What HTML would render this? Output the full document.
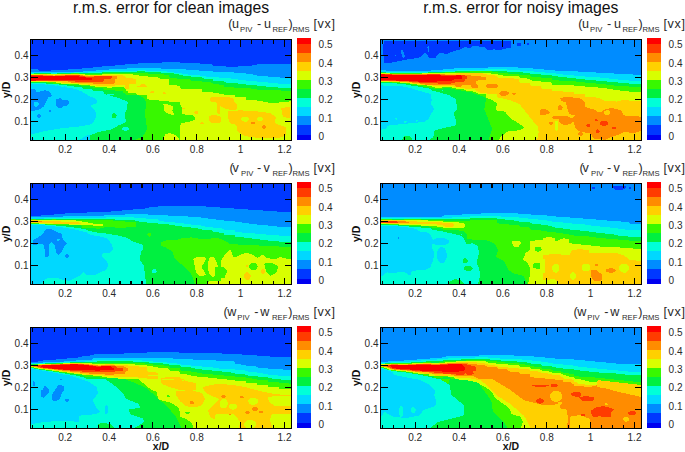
<!DOCTYPE html>
<html><head><meta charset="utf-8"><style>
html,body{margin:0;padding:0;background:#fff;}
svg{display:block;}
#w{width:685px;height:452px;}
text{font-family:"Liberation Sans", sans-serif;}
.t{font-size:10px;fill:#2a2a2a;}
.ct{font-size:12.6px;fill:#2a2a2a;}
.sub{font-size:7.7px;}
.ax{font-size:10.5px;font-weight:bold;fill:#111;}
.ti{font-size:15.75px;fill:#111;}
</style></head><body><div id="w">
<svg width="685" height="452" viewBox="0 0 685 452" shape-rendering="crispEdges">
<text x="73.1" y="12.6" class="ti">r.m.s. error for clean images</text>
<text x="423.3" y="12.6" class="ti">r.m.s. error for noisy images</text>
<path fill="#0038ff" d="M31 40h260v1h-260zM31 41h260v1h-260zM31 42h260v1h-260zM31 43h260v1h-260zM31 44h260v1h-260zM31 45h260v1h-260zM31 46h260v1h-260zM31 47h260v1h-260zM31 48h260v1h-260zM31 49h260v1h-260zM31 50h260v1h-260zM31 51h260v1h-260zM31 52h260v1h-260zM31 53h260v1h-260zM31 54h260v1h-260zM31 55h260v1h-260zM31 56h260v1h-260zM31 57h260v1h-260zM31 58h260v1h-260zM31 59h260v1h-260zM31 60h260v1h-260zM31 61h260v1h-260zM31 62h131v1h-131zM180 62h111v1h-111zM31 63h107v1h-107zM200 63h91v1h-91zM31 64h94v1h-94zM212 64h45v1h-45zM31 65h84v1h-84zM213 65h39v1h-39zM31 66h71v1h-71zM226 66h12v1h-12zM31 67h62v1h-62zM31 68h51v1h-51zM38 69h30v1h-30zM39 70h12v1h-12z"/><path fill="#008cff" d="M162 62h18v1h-18zM138 63h62v1h-62zM125 64h87v1h-87zM257 64h34v1h-34zM115 65h98v1h-98zM252 65h39v1h-39zM102 66h124v1h-124zM238 66h53v1h-53zM93 67h198v1h-198zM82 68h45v1h-45zM161 68h130v1h-130zM31 69h7v1h-7zM68 69h41v1h-41zM186 69h105v1h-105zM31 70h8v1h-8zM51 70h45v1h-45zM199 70h92v1h-92zM31 71h52v1h-52zM213 71h78v1h-78zM234 72h57v1h-57zM246 73h45v1h-45zM253 74h38v1h-38zM257 75h34v1h-34zM268 76h23v1h-23zM280 77h11v1h-11zM31 89h4v1h-4zM31 90h5v1h-5zM44 90h2v1h-2zM31 91h5v1h-5zM40 91h9v1h-9zM31 92h19v1h-19zM31 93h20v1h-20zM31 94h20v1h-20zM31 95h21v1h-21zM31 96h20v1h-20zM31 97h17v1h-17zM31 98h17v1h-17zM59 98h2v1h-2zM31 99h16v1h-16zM56 99h6v1h-6zM31 100h16v1h-16zM56 100h12v1h-12zM31 101h15v1h-15zM56 101h13v1h-13zM31 102h3v1h-3zM38 102h8v1h-8zM56 102h13v1h-13zM31 103h3v1h-3zM39 103h6v1h-6zM56 103h13v1h-13zM31 104h3v1h-3zM39 104h6v1h-6zM56 104h12v1h-12zM31 105h3v1h-3zM38 105h6v1h-6zM56 105h11v1h-11zM31 106h4v1h-4zM37 106h7v1h-7zM57 106h6v1h-6zM31 107h11v1h-11zM58 107h4v1h-4zM31 108h10v1h-10zM31 109h8v1h-8zM31 110h4v1h-4zM49 110h2v1h-2zM49 111h2v1h-2zM38 114h2v1h-2zM37 115h4v1h-4zM37 116h4v1h-4zM38 117h2v1h-2z"/><path fill="#00d8ff" d="M127 68h34v1h-34zM109 69h77v1h-77zM96 70h42v1h-42zM146 70h53v1h-53zM83 71h20v1h-20zM167 71h46v1h-46zM31 72h43v1h-43zM83 72h5v1h-5zM174 72h60v1h-60zM182 73h64v1h-64zM188 74h65v1h-65zM200 75h57v1h-57zM206 76h62v1h-62zM219 77h61v1h-61zM231 78h60v1h-60zM238 79h53v1h-53zM246 80h45v1h-45zM257 81h34v1h-34zM268 82h23v1h-23zM278 83h13v1h-13zM31 84h14v1h-14zM47 84h1v1h-1zM31 85h24v1h-24zM57 85h1v1h-1zM31 86h30v1h-30zM64 86h1v1h-1zM31 87h36v1h-36zM31 88h42v1h-42zM35 89h42v1h-42zM36 90h8v1h-8zM46 90h33v1h-33zM36 91h4v1h-4zM49 91h33v1h-33zM50 92h33v1h-33zM51 93h34v1h-34zM51 94h36v1h-36zM52 95h36v1h-36zM51 96h39v1h-39zM48 97h45v1h-45zM48 98h11v1h-11zM61 98h34v1h-34zM47 99h9v1h-9zM62 99h34v1h-34zM47 100h9v1h-9zM68 100h29v1h-29zM46 101h10v1h-10zM69 101h28v1h-28zM34 102h4v1h-4zM46 102h10v1h-10zM69 102h28v1h-28zM34 103h5v1h-5zM45 103h11v1h-11zM69 103h27v1h-27zM34 104h5v1h-5zM45 104h11v1h-11zM68 104h25v1h-25zM34 105h4v1h-4zM44 105h12v1h-12zM67 105h24v1h-24zM35 106h2v1h-2zM44 106h13v1h-13zM63 106h28v1h-28zM42 107h16v1h-16zM62 107h30v1h-30zM41 108h52v1h-52zM39 109h55v1h-55zM35 110h14v1h-14zM51 110h44v1h-44zM31 111h18v1h-18zM51 111h44v1h-44zM31 112h65v1h-65zM31 113h65v1h-65zM31 114h7v1h-7zM40 114h56v1h-56zM31 115h6v1h-6zM41 115h55v1h-55zM31 116h6v1h-6zM41 116h55v1h-55zM31 117h7v1h-7zM40 117h56v1h-56zM31 118h64v1h-64zM31 119h64v1h-64zM31 120h63v1h-63zM31 121h63v1h-63zM31 122h62v1h-62zM31 123h61v1h-61zM31 124h59v1h-59zM31 125h54v1h-54zM31 126h48v1h-48zM31 127h38v1h-38zM31 128h29v1h-29zM31 129h23v1h-23zM31 130h17v1h-17zM31 131h12v1h-12zM31 132h8v1h-8zM31 133h4v1h-4zM87 135h3v1h-3zM85 136h5v1h-5zM83 137h7v1h-7zM31 138h3v1h-3zM82 138h8v1h-8zM31 139h3v1h-3zM80 139h10v1h-10z"/><path fill="#00ffd8" d="M138 70h8v1h-8zM103 71h34v1h-34zM145 71h22v1h-22zM74 72h9v1h-9zM88 72h14v1h-14zM161 72h13v1h-13zM31 73h3v1h-3zM51 73h6v1h-6zM174 73h8v1h-8zM179 74h9v1h-9zM183 75h17v1h-17zM191 76h15v1h-15zM202 77h17v1h-17zM204 78h27v1h-27zM213 79h25v1h-25zM213 80h33v1h-33zM224 81h33v1h-33zM226 82h42v1h-42zM31 83h15v1h-15zM238 83h40v1h-40zM45 84h2v1h-2zM48 84h11v1h-11zM246 84h45v1h-45zM55 85h2v1h-2zM58 85h9v1h-9zM257 85h34v1h-34zM61 86h3v1h-3zM65 86h9v1h-9zM266 86h25v1h-25zM67 87h15v1h-15zM278 87h13v1h-13zM73 88h10v1h-10zM77 89h15v1h-15zM79 90h14v1h-14zM82 91h21v1h-21zM83 92h21v1h-21zM85 93h19v1h-19zM87 94h19v1h-19zM107 94h7v1h-7zM88 95h22v1h-22zM90 96h23v1h-23zM93 97h24v1h-24zM95 98h25v1h-25zM96 99h26v1h-26zM97 100h28v1h-28zM97 101h30v1h-30zM97 102h31v1h-31zM96 103h32v1h-32zM93 104h34v1h-34zM91 105h36v1h-36zM91 106h36v1h-36zM92 107h35v1h-35zM93 108h34v1h-34zM94 109h33v1h-33zM95 110h31v1h-31zM95 111h31v1h-31zM96 112h29v1h-29zM96 113h17v1h-17zM115 113h10v1h-10zM96 114h16v1h-16zM116 114h9v1h-9zM96 115h16v1h-16zM117 115h8v1h-8zM96 116h16v1h-16zM116 116h9v1h-9zM96 117h16v1h-16zM116 117h9v1h-9zM95 118h30v1h-30zM95 119h31v1h-31zM94 120h32v1h-32zM94 121h32v1h-32zM93 122h32v1h-32zM92 123h31v1h-31zM90 124h31v1h-31zM85 125h33v1h-33zM79 126h38v1h-38zM69 127h46v1h-46zM123 127h5v1h-5zM60 128h53v1h-53zM122 128h7v1h-7zM54 129h57v1h-57zM122 129h7v1h-7zM48 130h58v1h-58zM124 130h3v1h-3zM43 131h58v1h-58zM39 132h58v1h-58zM35 133h60v1h-60zM31 134h61v1h-61zM31 135h56v1h-56zM31 136h54v1h-54zM31 137h52v1h-52zM34 138h48v1h-48zM34 139h46v1h-46z"/><path fill="#00f040" d="M137 71h8v1h-8zM102 72h59v1h-59zM34 73h17v1h-17zM57 73h14v1h-14zM79 73h24v1h-24zM148 73h26v1h-26zM164 74h15v1h-15zM169 75h14v1h-14zM169 76h22v1h-22zM170 77h32v1h-32zM177 78h27v1h-27zM190 79h23v1h-23zM191 80h22v1h-22zM202 81h22v1h-22zM31 82h16v1h-16zM211 82h15v1h-15zM46 83h7v1h-7zM213 83h25v1h-25zM59 84h10v1h-10zM219 84h27v1h-27zM67 85h14v1h-14zM224 85h33v1h-33zM74 86h16v1h-16zM224 86h42v1h-42zM82 87h11v1h-11zM234 87h44v1h-44zM83 88h20v1h-20zM251 88h40v1h-40zM92 89h12v1h-12zM257 89h34v1h-34zM93 90h22v1h-22zM281 90h10v1h-10zM103 91h20v1h-20zM104 92h19v1h-19zM104 93h21v1h-21zM106 94h1v1h-1zM114 94h12v1h-12zM110 95h29v1h-29zM113 96h28v1h-28zM117 97h26v1h-26zM120 98h24v1h-24zM122 99h23v1h-23zM125 100h20v1h-20zM127 101h19v1h-19zM128 102h18v1h-18zM128 103h18v1h-18zM127 104h19v1h-19zM127 105h19v1h-19zM127 106h19v1h-19zM127 107h19v1h-19zM127 108h19v1h-19zM127 109h18v1h-18zM126 110h19v1h-19zM126 111h19v1h-19zM125 112h20v1h-20zM113 113h2v1h-2zM125 113h20v1h-20zM112 114h4v1h-4zM125 114h20v1h-20zM112 115h5v1h-5zM125 115h20v1h-20zM112 116h4v1h-4zM125 116h20v1h-20zM112 117h4v1h-4zM125 117h20v1h-20zM125 118h21v1h-21zM126 119h20v1h-20zM126 120h20v1h-20zM126 121h20v1h-20zM125 122h21v1h-21zM123 123h23v1h-23zM121 124h25v1h-25zM118 125h29v1h-29zM117 126h30v1h-30zM115 127h8v1h-8zM128 127h19v1h-19zM113 128h9v1h-9zM129 128h18v1h-18zM111 129h11v1h-11zM129 129h18v1h-18zM106 130h18v1h-18zM127 130h19v1h-19zM101 131h45v1h-45zM97 132h48v1h-48zM95 133h50v1h-50zM92 134h52v1h-52zM90 135h53v1h-53zM90 136h53v1h-53zM90 137h51v1h-51zM90 138h48v1h-48zM90 139h46v1h-46z"/><path fill="#38f800" d="M71 73h8v1h-8zM103 73h45v1h-45zM85 74h17v1h-17zM133 74h31v1h-31zM139 75h30v1h-30zM148 76h21v1h-21zM158 77h12v1h-12zM160 78h17v1h-17zM169 79h21v1h-21zM169 80h22v1h-22zM169 81h33v1h-33zM47 82h9v1h-9zM169 82h42v1h-42zM53 83h8v1h-8zM169 83h44v1h-44zM69 84h10v1h-10zM169 84h50v1h-50zM81 85h9v1h-9zM177 85h47v1h-47zM90 86h5v1h-5zM180 86h44v1h-44zM93 87h14v1h-14zM112 87h12v1h-12zM180 87h54v1h-54zM103 88h22v1h-22zM181 88h70v1h-70zM104 89h22v1h-22zM202 89h55v1h-55zM115 90h11v1h-11zM202 90h79v1h-79zM123 91h5v1h-5zM202 91h89v1h-89zM123 92h5v1h-5zM213 92h78v1h-78zM125 93h11v1h-11zM219 93h72v1h-72zM126 94h11v1h-11zM224 94h67v1h-67zM139 95h8v1h-8zM235 95h56v1h-56zM141 96h6v1h-6zM235 96h56v1h-56zM143 97h4v1h-4zM246 97h45v1h-45zM144 98h3v1h-3zM246 98h45v1h-45zM145 99h4v1h-4zM246 99h45v1h-45zM145 100h14v1h-14zM257 100h34v1h-34zM146 101h23v1h-23zM263 101h26v1h-26zM146 102h34v1h-34zM268 102h11v1h-11zM146 103h34v1h-34zM146 104h17v1h-17zM168 104h12v1h-12zM146 105h18v1h-18zM171 105h10v1h-10zM146 106h18v1h-18zM173 106h8v1h-8zM146 107h18v1h-18zM173 107h9v1h-9zM146 108h18v1h-18zM173 108h9v1h-9zM145 109h19v1h-19zM173 109h9v1h-9zM145 110h19v1h-19zM172 110h10v1h-10zM145 111h20v1h-20zM173 111h9v1h-9zM145 112h21v1h-21zM173 112h9v1h-9zM145 113h23v1h-23zM174 113h8v1h-8zM145 114h26v1h-26zM174 114h11v1h-11zM145 115h48v1h-48zM145 116h49v1h-49zM145 117h50v1h-50zM146 118h49v1h-49zM146 119h49v1h-49zM146 120h47v1h-47zM146 121h44v1h-44zM146 122h39v1h-39zM146 123h35v1h-35zM146 124h35v1h-35zM147 125h33v1h-33zM147 126h33v1h-33zM147 127h33v1h-33zM147 128h33v1h-33zM147 129h33v1h-33zM146 130h34v1h-34zM146 131h34v1h-34zM145 132h35v1h-35zM145 133h23v1h-23zM171 133h9v1h-9zM144 134h21v1h-21zM174 134h6v1h-6zM143 135h22v1h-22zM176 135h4v1h-4zM143 136h21v1h-21zM177 136h3v1h-3zM141 137h23v1h-23zM178 137h2v1h-2zM138 138h26v1h-26zM179 138h1v1h-1zM136 139h27v1h-27zM179 139h1v1h-1z"/><path fill="#d8ff00" d="M31 74h9v1h-9zM47 74h14v1h-14zM79 74h6v1h-6zM102 74h31v1h-31zM88 75h2v1h-2zM123 75h16v1h-16zM125 76h23v1h-23zM126 77h32v1h-32zM133 78h27v1h-27zM136 79h33v1h-33zM136 80h33v1h-33zM31 81h17v1h-17zM136 81h33v1h-33zM56 82h6v1h-6zM136 82h33v1h-33zM61 83h17v1h-17zM136 83h33v1h-33zM79 84h9v1h-9zM129 84h12v1h-12zM145 84h24v1h-24zM90 85h6v1h-6zM115 85h10v1h-10zM129 85h11v1h-11zM146 85h31v1h-31zM95 86h30v1h-30zM129 86h8v1h-8zM147 86h33v1h-33zM107 87h5v1h-5zM124 87h1v1h-1zM129 87h51v1h-51zM129 88h52v1h-52zM126 89h76v1h-76zM126 90h76v1h-76zM128 91h23v1h-23zM154 91h48v1h-48zM128 92h22v1h-22zM154 92h9v1h-9zM165 92h48v1h-48zM136 93h27v1h-27zM166 93h53v1h-53zM137 94h87v1h-87zM147 95h88v1h-88zM147 96h88v1h-88zM147 97h64v1h-64zM230 97h16v1h-16zM147 98h63v1h-63zM233 98h13v1h-13zM149 99h61v1h-61zM234 99h12v1h-12zM159 100h51v1h-51zM234 100h23v1h-23zM169 101h42v1h-42zM234 101h29v1h-29zM289 101h2v1h-2zM180 102h36v1h-36zM235 102h33v1h-33zM279 102h12v1h-12zM180 103h37v1h-37zM236 103h55v1h-55zM163 104h5v1h-5zM180 104h37v1h-37zM237 104h54v1h-54zM164 105h7v1h-7zM181 105h36v1h-36zM237 105h54v1h-54zM164 106h9v1h-9zM181 106h36v1h-36zM220 106h1v1h-1zM237 106h54v1h-54zM164 107h9v1h-9zM182 107h35v1h-35zM220 107h3v1h-3zM237 107h48v1h-48zM290 107h1v1h-1zM164 108h9v1h-9zM185 108h32v1h-32zM220 108h5v1h-5zM237 108h44v1h-44zM290 108h1v1h-1zM164 109h9v1h-9zM182 109h35v1h-35zM220 109h9v1h-9zM236 109h45v1h-45zM290 109h1v1h-1zM164 110h8v1h-8zM182 110h35v1h-35zM220 110h18v1h-18zM243 110h39v1h-39zM290 110h1v1h-1zM165 111h8v1h-8zM182 111h13v1h-13zM198 111h19v1h-19zM220 111h8v1h-8zM258 111h24v1h-24zM290 111h1v1h-1zM166 112h7v1h-7zM182 112h12v1h-12zM198 112h19v1h-19zM220 112h8v1h-8zM266 112h16v1h-16zM290 112h1v1h-1zM168 113h6v1h-6zM182 113h13v1h-13zM198 113h20v1h-20zM220 113h8v1h-8zM271 113h11v1h-11zM290 113h1v1h-1zM171 114h3v1h-3zM185 114h43v1h-43zM272 114h10v1h-10zM290 114h1v1h-1zM193 115h18v1h-18zM217 115h11v1h-11zM274 115h9v1h-9zM290 115h1v1h-1zM194 116h15v1h-15zM220 116h8v1h-8zM275 116h8v1h-8zM290 116h1v1h-1zM195 117h14v1h-14zM221 117h7v1h-7zM242 117h6v1h-6zM258 117h4v1h-4zM276 117h10v1h-10zM290 117h1v1h-1zM195 118h14v1h-14zM221 118h7v1h-7zM241 118h8v1h-8zM257 118h6v1h-6zM276 118h15v1h-15zM195 119h14v1h-14zM221 119h8v1h-8zM241 119h8v1h-8zM257 119h6v1h-6zM275 119h16v1h-16zM193 120h16v1h-16zM221 120h8v1h-8zM242 120h6v1h-6zM258 120h4v1h-4zM275 120h16v1h-16zM190 121h20v1h-20zM221 121h8v1h-8zM244 121h3v1h-3zM275 121h16v1h-16zM185 122h16v1h-16zM203 122h8v1h-8zM220 122h10v1h-10zM275 122h16v1h-16zM181 123h19v1h-19zM204 123h27v1h-27zM276 123h15v1h-15zM181 124h54v1h-54zM278 124h13v1h-13zM180 125h56v1h-56zM281 125h10v1h-10zM180 126h57v1h-57zM284 126h7v1h-7zM180 127h57v1h-57zM286 127h5v1h-5zM180 128h57v1h-57zM286 128h5v1h-5zM180 129h57v1h-57zM286 129h5v1h-5zM180 130h57v1h-57zM286 130h5v1h-5zM180 131h58v1h-58zM286 131h5v1h-5zM180 132h59v1h-59zM286 132h5v1h-5zM168 133h3v1h-3zM180 133h61v1h-61zM286 133h5v1h-5zM165 134h9v1h-9zM180 134h62v1h-62zM286 134h5v1h-5zM165 135h11v1h-11zM180 135h64v1h-64zM285 135h6v1h-6zM164 136h13v1h-13zM180 136h68v1h-68zM283 136h8v1h-8zM164 137h14v1h-14zM180 137h75v1h-75zM280 137h11v1h-11zM164 138h15v1h-15zM180 138h111v1h-111zM163 139h16v1h-16zM180 139h111v1h-111z"/><path fill="#ffd000" d="M40 74h7v1h-7zM61 74h18v1h-18zM53 75h2v1h-2zM83 75h5v1h-5zM90 75h33v1h-33zM117 76h8v1h-8zM117 77h9v1h-9zM117 78h16v1h-16zM115 79h21v1h-21zM115 80h21v1h-21zM48 81h20v1h-20zM115 81h21v1h-21zM62 82h9v1h-9zM115 82h21v1h-21zM78 83h15v1h-15zM114 83h22v1h-22zM88 84h41v1h-41zM141 84h4v1h-4zM96 85h19v1h-19zM125 85h4v1h-4zM140 85h6v1h-6zM125 86h4v1h-4zM137 86h10v1h-10zM125 87h4v1h-4zM125 88h4v1h-4zM151 91h3v1h-3zM150 92h4v1h-4zM163 92h2v1h-2zM163 93h3v1h-3zM211 97h19v1h-19zM210 98h23v1h-23zM210 99h24v1h-24zM210 100h24v1h-24zM211 101h23v1h-23zM216 102h19v1h-19zM217 103h19v1h-19zM217 104h20v1h-20zM217 105h20v1h-20zM217 106h3v1h-3zM221 106h16v1h-16zM217 107h3v1h-3zM223 107h14v1h-14zM285 107h5v1h-5zM182 108h3v1h-3zM217 108h3v1h-3zM225 108h12v1h-12zM281 108h9v1h-9zM217 109h3v1h-3zM229 109h7v1h-7zM281 109h9v1h-9zM217 110h3v1h-3zM238 110h5v1h-5zM282 110h8v1h-8zM195 111h3v1h-3zM217 111h3v1h-3zM228 111h30v1h-30zM282 111h8v1h-8zM194 112h4v1h-4zM217 112h3v1h-3zM228 112h38v1h-38zM282 112h8v1h-8zM195 113h3v1h-3zM218 113h2v1h-2zM228 113h43v1h-43zM282 113h8v1h-8zM228 114h44v1h-44zM282 114h8v1h-8zM211 115h6v1h-6zM228 115h46v1h-46zM283 115h7v1h-7zM209 116h11v1h-11zM228 116h47v1h-47zM283 116h7v1h-7zM209 117h12v1h-12zM228 117h14v1h-14zM248 117h10v1h-10zM262 117h14v1h-14zM286 117h4v1h-4zM209 118h12v1h-12zM228 118h13v1h-13zM249 118h8v1h-8zM263 118h13v1h-13zM209 119h12v1h-12zM229 119h12v1h-12zM249 119h8v1h-8zM263 119h12v1h-12zM209 120h12v1h-12zM229 120h13v1h-13zM248 120h10v1h-10zM262 120h13v1h-13zM210 121h11v1h-11zM229 121h15v1h-15zM247 121h28v1h-28zM201 122h2v1h-2zM211 122h9v1h-9zM230 122h21v1h-21zM255 122h20v1h-20zM200 123h4v1h-4zM231 123h20v1h-20zM255 123h21v1h-21zM235 124h43v1h-43zM236 125h27v1h-27zM265 125h16v1h-16zM237 126h25v1h-25zM266 126h18v1h-18zM237 127h25v1h-25zM266 127h20v1h-20zM237 128h26v1h-26zM265 128h21v1h-21zM237 129h49v1h-49zM237 130h49v1h-49zM238 131h48v1h-48zM239 132h47v1h-47zM241 133h45v1h-45zM242 134h44v1h-44zM244 135h41v1h-41zM248 136h35v1h-35zM255 137h25v1h-25z"/><path fill="#ff8c00" d="M43 75h10v1h-10zM55 75h10v1h-10zM80 75h3v1h-3zM85 76h9v1h-9zM112 76h5v1h-5zM112 77h5v1h-5zM111 78h6v1h-6zM104 79h11v1h-11zM104 80h11v1h-11zM68 81h7v1h-7zM103 81h12v1h-12zM71 82h44v1h-44zM93 83h21v1h-21zM251 122h4v1h-4zM251 123h4v1h-4zM263 125h2v1h-2zM262 126h4v1h-4zM262 127h4v1h-4zM263 128h2v1h-2z"/><path fill="#ff3c00" d="M31 75h12v1h-12zM65 75h15v1h-15zM79 76h6v1h-6zM94 76h18v1h-18zM86 77h26v1h-26zM92 78h19v1h-19zM92 79h12v1h-12zM36 80h68v1h-68zM75 81h28v1h-28z"/><path fill="#ff0000" d="M31 76h48v1h-48zM31 77h55v1h-55zM31 78h61v1h-61zM31 79h61v1h-61zM31 80h5v1h-5z"/><path d="M32.3 39.5v4M32.3 140.5v-4M43.3 39.5v4M43.3 140.5v-4M54.2 39.5v4M54.2 140.5v-4M65.2 39.5v7M65.2 140.5v-7M76.2 39.5v4M76.2 140.5v-4M87.1 39.5v4M87.1 140.5v-4M98.1 39.5v4M98.1 140.5v-4M109.1 39.5v7M109.1 140.5v-7M120.0 39.5v4M120.0 140.5v-4M131.0 39.5v4M131.0 140.5v-4M142.0 39.5v4M142.0 140.5v-4M152.9 39.5v7M152.9 140.5v-7M163.9 39.5v4M163.9 140.5v-4M174.9 39.5v4M174.9 140.5v-4M185.8 39.5v4M185.8 140.5v-4M196.8 39.5v7M196.8 140.5v-7M207.7 39.5v4M207.7 140.5v-4M218.7 39.5v4M218.7 140.5v-4M229.7 39.5v4M229.7 140.5v-4M240.6 39.5v7M240.6 140.5v-7M251.6 39.5v4M251.6 140.5v-4M262.6 39.5v4M262.6 140.5v-4M273.5 39.5v4M273.5 140.5v-4M284.5 39.5v7M284.5 140.5v-7M30.5 121.4h7M291.5 121.4h-7M30.5 99.5h7M291.5 99.5h-7M30.5 77.5h7M291.5 77.5h-7M30.5 55.6h7M291.5 55.6h-7" stroke="#000" stroke-width="1.05" fill="none"/><rect x="30.5" y="39.5" width="261" height="101" fill="none" stroke="#000" stroke-width="1"/><text x="65.2" y="152.5" text-anchor="middle" class="t">0.2</text><text x="109.1" y="152.5" text-anchor="middle" class="t">0.4</text><text x="152.9" y="152.5" text-anchor="middle" class="t">0.6</text><text x="196.8" y="152.5" text-anchor="middle" class="t">0.8</text><text x="240.6" y="152.5" text-anchor="middle" class="t">1</text><text x="284.5" y="152.5" text-anchor="middle" class="t">1.2</text><text x="28.5" y="125.0" text-anchor="end" class="t">0.1</text><text x="28.5" y="103.1" text-anchor="end" class="t">0.2</text><text x="28.5" y="81.1" text-anchor="end" class="t">0.3</text><text x="28.5" y="59.2" text-anchor="end" class="t">0.4</text><rect x="297.0" y="38.40" width="14.2" height="5.10" fill="#ff0000"/><rect x="297.0" y="43.50" width="14.2" height="9.11" fill="#ff3c00"/><rect x="297.0" y="52.61" width="14.2" height="9.11" fill="#ff8c00"/><rect x="297.0" y="61.72" width="14.2" height="9.11" fill="#ffd000"/><rect x="297.0" y="70.83" width="14.2" height="9.11" fill="#d8ff00"/><rect x="297.0" y="79.94" width="14.2" height="9.11" fill="#38f800"/><rect x="297.0" y="89.05" width="14.2" height="9.11" fill="#00f040"/><rect x="297.0" y="98.16" width="14.2" height="9.11" fill="#00ffd8"/><rect x="297.0" y="107.27" width="14.2" height="9.11" fill="#00d8ff"/><rect x="297.0" y="116.38" width="14.2" height="9.11" fill="#008cff"/><rect x="297.0" y="125.49" width="14.2" height="9.11" fill="#0038ff"/><rect x="297.0" y="134.60" width="14.2" height="5.10" fill="#0000f0"/><text x="318.6" y="48.4" class="t">0.5</text><text x="318.6" y="66.7" class="t">0.4</text><text x="318.6" y="85.0" class="t">0.3</text><text x="318.6" y="103.4" class="t">0.2</text><text x="318.6" y="121.7" class="t">0.1</text><text x="318.6" y="140.0" class="t">0</text><text class="ct"><tspan x="228.2" y="27.8">(</tspan><tspan x="231.9" y="27.8">u</tspan><tspan x="240.0" y="32.3" class="sub">PIV</tspan><tspan x="257.0" y="27.8">-</tspan><tspan x="263.9" y="27.8">u</tspan><tspan x="272.4" y="32.3" class="sub">REF</tspan><tspan x="288.4" y="27.8">)</tspan><tspan x="292.5" y="32.3" class="sub">RMS</tspan><tspan x="313.5" y="27.8" letter-spacing="0.6">[vx]</tspan></text><text transform="translate(9.8 89.9) rotate(-90)" text-anchor="middle" class="ax">y/D</text><path fill="#0038ff" d="M384 41h127v1h-127zM384 42h127v1h-127zM384 43h127v1h-127zM517 43h4v1h-4zM527 43h2v1h-2zM383 44h128v1h-128zM517 44h4v1h-4zM527 44h2v1h-2zM383 45h128v1h-128zM517 45h4v1h-4zM383 46h45v1h-45zM429 46h43v1h-43zM479 46h32v1h-32zM383 47h44v1h-44zM429 47h35v1h-35zM467 47h4v1h-4zM485 47h26v1h-26zM383 48h45v1h-45zM429 48h33v1h-33zM486 48h20v1h-20zM383 49h45v1h-45zM429 49h31v1h-31zM487 49h6v1h-6zM495 49h7v1h-7zM383 50h18v1h-18zM403 50h25v1h-25zM429 50h27v1h-27zM383 51h18v1h-18zM403 51h25v1h-25zM429 51h24v1h-24zM383 52h18v1h-18zM404 52h46v1h-46zM383 53h18v1h-18zM404 53h20v1h-20zM426 53h13v1h-13zM444 53h4v1h-4zM383 54h19v1h-19zM404 54h19v1h-19zM427 54h11v1h-11zM383 55h12v1h-12zM396 55h6v1h-6zM405 55h17v1h-17zM428 55h9v1h-9zM384 56h18v1h-18zM405 56h16v1h-16zM428 56h8v1h-8zM384 57h19v1h-19zM404 57h15v1h-15zM429 57h7v1h-7zM384 58h30v1h-30zM384 59h23v1h-23zM384 60h18v1h-18zM384 61h13v1h-13zM384 62h8v1h-8z"/><path fill="#008cff" d="M381 40h260v1h-260zM381 41h3v1h-3zM511 41h130v1h-130zM381 42h3v1h-3zM511 42h130v1h-130zM381 43h3v1h-3zM511 43h6v1h-6zM521 43h6v1h-6zM529 43h112v1h-112zM381 44h2v1h-2zM511 44h6v1h-6zM521 44h6v1h-6zM529 44h112v1h-112zM381 45h2v1h-2zM511 45h6v1h-6zM521 45h120v1h-120zM381 46h2v1h-2zM428 46h1v1h-1zM472 46h7v1h-7zM511 46h130v1h-130zM381 47h2v1h-2zM427 47h2v1h-2zM464 47h3v1h-3zM471 47h14v1h-14zM511 47h130v1h-130zM381 48h2v1h-2zM428 48h1v1h-1zM462 48h24v1h-24zM506 48h135v1h-135zM381 49h2v1h-2zM428 49h1v1h-1zM460 49h27v1h-27zM493 49h2v1h-2zM502 49h139v1h-139zM381 50h2v1h-2zM401 50h2v1h-2zM428 50h1v1h-1zM456 50h185v1h-185zM381 51h2v1h-2zM401 51h2v1h-2zM428 51h1v1h-1zM453 51h188v1h-188zM381 52h2v1h-2zM401 52h3v1h-3zM450 52h191v1h-191zM381 53h2v1h-2zM401 53h3v1h-3zM424 53h2v1h-2zM439 53h5v1h-5zM448 53h193v1h-193zM381 54h2v1h-2zM402 54h2v1h-2zM423 54h4v1h-4zM438 54h203v1h-203zM381 55h2v1h-2zM395 55h1v1h-1zM402 55h3v1h-3zM422 55h6v1h-6zM437 55h204v1h-204zM381 56h3v1h-3zM402 56h3v1h-3zM421 56h7v1h-7zM436 56h205v1h-205zM381 57h3v1h-3zM403 57h1v1h-1zM419 57h10v1h-10zM436 57h205v1h-205zM381 58h3v1h-3zM414 58h227v1h-227zM381 59h3v1h-3zM407 59h234v1h-234zM381 60h3v1h-3zM402 60h239v1h-239zM381 61h3v1h-3zM397 61h244v1h-244zM381 62h3v1h-3zM392 62h249v1h-249zM381 63h260v1h-260zM381 64h260v1h-260zM381 65h260v1h-260zM381 66h260v1h-260zM381 67h107v1h-107zM518 67h123v1h-123zM381 68h73v1h-73zM533 68h108v1h-108zM381 69h62v1h-62zM544 69h97v1h-97zM386 70h45v1h-45zM555 70h86v1h-86zM578 71h63v1h-63zM596 72h45v1h-45zM614 73h27v1h-27zM633 74h8v1h-8z"/><path fill="#00d8ff" d="M488 67h30v1h-30zM454 68h79v1h-79zM443 69h42v1h-42zM507 69h37v1h-37zM381 70h5v1h-5zM431 70h26v1h-26zM520 70h35v1h-35zM381 71h61v1h-61zM534 71h44v1h-44zM545 72h51v1h-51zM556 73h58v1h-58zM563 74h70v1h-70zM574 75h67v1h-67zM585 76h56v1h-56zM600 77h41v1h-41zM609 78h32v1h-32zM618 79h23v1h-23zM629 80h12v1h-12zM381 85h2v1h-2zM381 86h22v1h-22zM381 87h27v1h-27zM381 88h31v1h-31zM381 89h34v1h-34zM381 90h37v1h-37zM381 91h41v1h-41zM381 92h44v1h-44zM381 93h48v1h-48zM381 94h50v1h-50zM381 95h50v1h-50zM381 96h50v1h-50zM381 97h50v1h-50zM381 98h50v1h-50zM381 99h51v1h-51zM381 100h51v1h-51zM381 101h50v1h-50zM381 102h50v1h-50zM381 103h50v1h-50zM381 104h50v1h-50zM381 105h51v1h-51zM381 106h52v1h-52zM381 107h52v1h-52zM381 108h53v1h-53zM381 109h53v1h-53zM381 110h52v1h-52zM381 111h52v1h-52zM381 112h51v1h-51zM381 113h50v1h-50zM381 114h50v1h-50zM381 115h49v1h-49zM381 116h49v1h-49zM381 117h48v1h-48zM381 118h14v1h-14zM397 118h32v1h-32zM381 119h15v1h-15zM397 119h31v1h-31zM381 120h35v1h-35zM418 120h8v1h-8zM381 121h23v1h-23zM407 121h9v1h-9zM417 121h8v1h-8zM381 122h23v1h-23zM406 122h12v1h-12zM381 123h27v1h-27zM381 124h17v1h-17zM381 125h8v1h-8zM381 126h6v1h-6zM381 127h6v1h-6zM381 128h5v1h-5zM381 129h1v1h-1z"/><path fill="#00ffd8" d="M485 69h22v1h-22zM457 70h63v1h-63zM442 71h13v1h-13zM507 71h27v1h-27zM386 72h42v1h-42zM523 72h22v1h-22zM530 73h26v1h-26zM541 74h22v1h-22zM552 75h22v1h-22zM558 76h27v1h-27zM567 77h33v1h-33zM576 78h33v1h-33zM585 79h33v1h-33zM596 80h33v1h-33zM607 81h34v1h-34zM618 82h23v1h-23zM381 83h16v1h-16zM629 83h12v1h-12zM381 84h25v1h-25zM383 85h28v1h-28zM403 86h15v1h-15zM408 87h15v1h-15zM412 88h17v1h-17zM415 89h16v1h-16zM418 90h14v1h-14zM442 90h1v1h-1zM422 91h14v1h-14zM425 92h15v1h-15zM429 93h14v1h-14zM431 94h16v1h-16zM431 95h19v1h-19zM431 96h20v1h-20zM431 97h22v1h-22zM431 98h24v1h-24zM432 99h24v1h-24zM432 100h24v1h-24zM431 101h25v1h-25zM431 102h25v1h-25zM431 103h25v1h-25zM431 104h26v1h-26zM432 105h25v1h-25zM433 106h24v1h-24zM433 107h24v1h-24zM434 108h23v1h-23zM434 109h23v1h-23zM433 110h23v1h-23zM433 111h22v1h-22zM432 112h22v1h-22zM431 113h23v1h-23zM431 114h23v1h-23zM430 115h24v1h-24zM430 116h25v1h-25zM429 117h26v1h-26zM395 118h2v1h-2zM429 118h26v1h-26zM396 119h1v1h-1zM428 119h28v1h-28zM416 120h2v1h-2zM426 120h30v1h-30zM404 121h3v1h-3zM416 121h1v1h-1zM425 121h31v1h-31zM404 122h2v1h-2zM418 122h38v1h-38zM408 123h48v1h-48zM398 124h58v1h-58zM389 125h66v1h-66zM387 126h64v1h-64zM387 127h59v1h-59zM386 128h56v1h-56zM382 129h56v1h-56zM381 130h54v1h-54zM381 131h53v1h-53zM381 132h53v1h-53zM381 133h53v1h-53zM381 134h53v1h-53zM381 135h53v1h-53zM381 136h23v1h-23zM410 136h23v1h-23zM381 137h22v1h-22zM411 137h22v1h-22zM381 138h22v1h-22zM412 138h19v1h-19zM381 139h21v1h-21zM412 139h18v1h-18z"/><path fill="#00f040" d="M455 71h15v1h-15zM492 71h15v1h-15zM381 72h5v1h-5zM428 72h17v1h-17zM498 72h25v1h-25zM508 73h22v1h-22zM519 74h22v1h-22zM530 75h22v1h-22zM531 76h27v1h-27zM541 77h26v1h-26zM552 78h24v1h-24zM552 79h33v1h-33zM559 80h37v1h-37zM576 81h31v1h-31zM381 82h11v1h-11zM585 82h33v1h-33zM397 83h9v1h-9zM596 83h33v1h-33zM406 84h6v1h-6zM606 84h35v1h-35zM411 85h7v1h-7zM614 85h27v1h-27zM418 86h5v1h-5zM629 86h12v1h-12zM423 87h6v1h-6zM429 88h5v1h-5zM443 88h8v1h-8zM431 89h24v1h-24zM432 90h10v1h-10zM443 90h18v1h-18zM436 91h30v1h-30zM440 92h32v1h-32zM443 93h31v1h-31zM447 94h30v1h-30zM450 95h30v1h-30zM451 96h32v1h-32zM453 97h32v1h-32zM455 98h31v1h-31zM456 99h30v1h-30zM456 100h30v1h-30zM456 101h30v1h-30zM456 102h29v1h-29zM456 103h29v1h-29zM457 104h28v1h-28zM457 105h28v1h-28zM457 106h28v1h-28zM457 107h28v1h-28zM457 108h27v1h-27zM457 109h27v1h-27zM456 110h29v1h-29zM455 111h30v1h-30zM454 112h32v1h-32zM454 113h32v1h-32zM454 114h32v1h-32zM454 115h33v1h-33zM455 116h32v1h-32zM455 117h33v1h-33zM455 118h33v1h-33zM456 119h32v1h-32zM456 120h33v1h-33zM456 121h33v1h-33zM456 122h34v1h-34zM456 123h34v1h-34zM456 124h34v1h-34zM455 125h36v1h-36zM451 126h40v1h-40zM446 127h46v1h-46zM442 128h50v1h-50zM438 129h54v1h-54zM435 130h57v1h-57zM434 131h57v1h-57zM434 132h57v1h-57zM434 133h57v1h-57zM434 134h56v1h-56zM434 135h56v1h-56zM404 136h6v1h-6zM433 136h57v1h-57zM403 137h8v1h-8zM433 137h56v1h-56zM403 138h9v1h-9zM431 138h58v1h-58zM402 139h10v1h-10zM430 139h59v1h-59z"/><path fill="#38f800" d="M470 71h22v1h-22zM445 72h53v1h-53zM390 73h32v1h-32zM491 73h17v1h-17zM498 74h21v1h-21zM503 75h27v1h-27zM519 76h12v1h-12zM520 77h21v1h-21zM527 78h25v1h-25zM530 79h22v1h-22zM532 80h27v1h-27zM541 81h35v1h-35zM392 82h8v1h-8zM551 82h34v1h-34zM406 83h4v1h-4zM552 83h44v1h-44zM412 84h5v1h-5zM552 84h54v1h-54zM418 85h9v1h-9zM574 85h40v1h-40zM423 86h9v1h-9zM585 86h44v1h-44zM429 87h6v1h-6zM442 87h10v1h-10zM598 87h43v1h-43zM434 88h9v1h-9zM451 88h5v1h-5zM607 88h34v1h-34zM455 89h9v1h-9zM613 89h28v1h-28zM461 90h5v1h-5zM620 90h21v1h-21zM466 91h7v1h-7zM629 91h12v1h-12zM472 92h4v1h-4zM474 93h4v1h-4zM477 94h9v1h-9zM480 95h6v1h-6zM483 96h3v1h-3zM485 97h1v1h-1zM486 98h2v1h-2zM486 99h5v1h-5zM486 100h7v1h-7zM486 101h8v1h-8zM485 102h11v1h-11zM485 103h12v1h-12zM485 104h12v1h-12zM485 105h12v1h-12zM485 106h11v1h-11zM485 107h11v1h-11zM484 108h12v1h-12zM484 109h12v1h-12zM485 110h12v1h-12zM485 111h19v1h-19zM486 112h20v1h-20zM486 113h20v1h-20zM486 114h21v1h-21zM487 115h21v1h-21zM487 116h22v1h-22zM488 117h22v1h-22zM488 118h23v1h-23zM488 119h24v1h-24zM489 120h25v1h-25zM489 121h27v1h-27zM490 122h27v1h-27zM490 123h29v1h-29zM490 124h30v1h-30zM491 125h31v1h-31zM491 126h32v1h-32zM492 127h32v1h-32zM492 128h31v1h-31zM492 129h29v1h-29zM492 130h25v1h-25zM491 131h17v1h-17zM491 132h15v1h-15zM491 133h14v1h-14zM490 134h14v1h-14zM490 135h12v1h-12zM490 136h11v1h-11zM489 137h11v1h-11zM489 138h11v1h-11zM489 139h10v1h-10z"/><path fill="#d8ff00" d="M381 73h9v1h-9zM422 73h34v1h-34zM483 73h8v1h-8zM487 74h11v1h-11zM495 75h8v1h-8zM497 76h22v1h-22zM498 77h22v1h-22zM514 78h13v1h-13zM519 79h11v1h-11zM519 80h13v1h-13zM381 81h8v1h-8zM519 81h22v1h-22zM400 82h7v1h-7zM520 82h31v1h-31zM410 83h3v1h-3zM530 83h22v1h-22zM417 84h4v1h-4zM530 84h22v1h-22zM427 85h6v1h-6zM531 85h43v1h-43zM432 86h22v1h-22zM541 86h44v1h-44zM435 87h7v1h-7zM452 87h8v1h-8zM541 87h57v1h-57zM456 88h9v1h-9zM542 88h65v1h-65zM464 89h11v1h-11zM552 89h61v1h-61zM466 90h10v1h-10zM552 90h68v1h-68zM473 91h5v1h-5zM563 91h66v1h-66zM476 92h4v1h-4zM574 92h67v1h-67zM478 93h9v1h-9zM574 93h67v1h-67zM486 94h11v1h-11zM585 94h56v1h-56zM486 95h11v1h-11zM585 95h56v1h-56zM486 96h11v1h-11zM585 96h56v1h-56zM486 97h12v1h-12zM596 97h45v1h-45zM488 98h15v1h-15zM600 98h41v1h-41zM491 99h16v1h-16zM602 99h39v1h-39zM493 100h18v1h-18zM604 100h17v1h-17zM629 100h12v1h-12zM494 101h19v1h-19zM616 101h1v1h-1zM496 102h20v1h-20zM497 103h21v1h-21zM497 104h23v1h-23zM497 105h24v1h-24zM496 106h25v1h-25zM496 107h26v1h-26zM496 108h27v1h-27zM496 109h28v1h-28zM497 110h28v1h-28zM504 111h21v1h-21zM506 112h20v1h-20zM506 113h21v1h-21zM507 114h21v1h-21zM508 115h21v1h-21zM509 116h20v1h-20zM510 117h20v1h-20zM511 118h20v1h-20zM512 119h20v1h-20zM514 120h19v1h-19zM516 121h17v1h-17zM555 121h3v1h-3zM517 122h17v1h-17zM555 122h3v1h-3zM519 123h16v1h-16zM555 123h3v1h-3zM520 124h16v1h-16zM555 124h3v1h-3zM522 125h15v1h-15zM555 125h3v1h-3zM523 126h15v1h-15zM555 126h3v1h-3zM524 127h14v1h-14zM555 127h3v1h-3zM523 128h15v1h-15zM555 128h3v1h-3zM521 129h17v1h-17zM555 129h3v1h-3zM517 130h21v1h-21zM556 130h1v1h-1zM508 131h31v1h-31zM506 132h33v1h-33zM505 133h33v1h-33zM504 134h34v1h-34zM502 135h36v1h-36zM501 136h37v1h-37zM500 137h38v1h-38zM500 138h37v1h-37zM499 139h37v1h-37z"/><path fill="#ffd000" d="M456 73h27v1h-27zM445 74h42v1h-42zM471 75h24v1h-24zM481 76h16v1h-16zM486 77h12v1h-12zM486 78h28v1h-28zM486 79h33v1h-33zM478 80h41v1h-41zM389 81h10v1h-10zM476 81h43v1h-43zM407 82h5v1h-5zM476 82h44v1h-44zM413 83h7v1h-7zM476 83h54v1h-54zM421 84h4v1h-4zM477 84h10v1h-10zM497 84h33v1h-33zM433 85h22v1h-22zM462 85h9v1h-9zM478 85h8v1h-8zM498 85h33v1h-33zM454 86h2v1h-2zM461 86h10v1h-10zM478 86h8v1h-8zM498 86h43v1h-43zM460 87h12v1h-12zM478 87h9v1h-9zM497 87h44v1h-44zM465 88h77v1h-77zM475 89h77v1h-77zM476 90h76v1h-76zM478 91h23v1h-23zM507 91h56v1h-56zM480 92h20v1h-20zM509 92h65v1h-65zM487 93h12v1h-12zM509 93h3v1h-3zM516 93h58v1h-58zM497 94h3v1h-3zM508 94h5v1h-5zM515 94h70v1h-70zM497 95h4v1h-4zM506 95h79v1h-79zM497 96h88v1h-88zM498 97h65v1h-65zM573 97h23v1h-23zM503 98h57v1h-57zM580 98h20v1h-20zM507 99h54v1h-54zM582 99h20v1h-20zM511 100h50v1h-50zM583 100h21v1h-21zM621 100h8v1h-8zM513 101h50v1h-50zM584 101h32v1h-32zM617 101h24v1h-24zM516 102h50v1h-50zM585 102h56v1h-56zM518 103h48v1h-48zM585 103h56v1h-56zM520 104h46v1h-46zM585 104h56v1h-56zM521 105h38v1h-38zM561 105h6v1h-6zM585 105h56v1h-56zM521 106h37v1h-37zM562 106h5v1h-5zM585 106h56v1h-56zM522 107h36v1h-36zM563 107h4v1h-4zM587 107h54v1h-54zM523 108h35v1h-35zM562 108h5v1h-5zM590 108h19v1h-19zM614 108h27v1h-27zM524 109h17v1h-17zM546 109h12v1h-12zM562 109h6v1h-6zM594 109h11v1h-11zM618 109h23v1h-23zM525 110h15v1h-15zM548 110h20v1h-20zM596 110h7v1h-7zM606 110h3v1h-3zM621 110h20v1h-20zM525 111h15v1h-15zM549 111h19v1h-19zM597 111h5v1h-5zM604 111h6v1h-6zM622 111h19v1h-19zM526 112h14v1h-14zM550 112h19v1h-19zM604 112h6v1h-6zM622 112h19v1h-19zM527 113h13v1h-13zM549 113h20v1h-20zM604 113h6v1h-6zM623 113h18v1h-18zM528 114h12v1h-12zM546 114h25v1h-25zM605 114h4v1h-4zM623 114h18v1h-18zM529 115h46v1h-46zM625 115h16v1h-16zM529 116h24v1h-24zM568 116h6v1h-6zM639 116h2v1h-2zM530 117h22v1h-22zM570 117h3v1h-3zM531 118h22v1h-22zM532 119h27v1h-27zM533 120h26v1h-26zM533 121h22v1h-22zM558 121h1v1h-1zM534 122h15v1h-15zM553 122h2v1h-2zM558 122h2v1h-2zM572 122h2v1h-2zM535 123h14v1h-14zM553 123h2v1h-2zM558 123h3v1h-3zM571 123h3v1h-3zM536 124h14v1h-14zM552 124h3v1h-3zM558 124h5v1h-5zM568 124h6v1h-6zM537 125h18v1h-18zM558 125h17v1h-17zM538 126h17v1h-17zM558 126h17v1h-17zM538 127h17v1h-17zM558 127h17v1h-17zM538 128h17v1h-17zM558 128h18v1h-18zM538 129h17v1h-17zM558 129h19v1h-19zM538 130h18v1h-18zM557 130h21v1h-21zM539 131h41v1h-41zM639 131h2v1h-2zM539 132h40v1h-40zM582 132h3v1h-3zM623 132h6v1h-6zM636 132h5v1h-5zM538 133h40v1h-40zM583 133h7v1h-7zM621 133h20v1h-20zM538 134h40v1h-40zM583 134h8v1h-8zM619 134h22v1h-22zM538 135h42v1h-42zM582 135h10v1h-10zM616 135h25v1h-25zM538 136h54v1h-54zM613 136h28v1h-28zM538 137h55v1h-55zM610 137h31v1h-31zM537 138h57v1h-57zM608 138h33v1h-33zM536 139h67v1h-67zM606 139h35v1h-35z"/><path fill="#ff8c00" d="M392 74h35v1h-35zM440 74h5v1h-5zM465 75h6v1h-6zM467 76h14v1h-14zM467 77h19v1h-19zM467 78h19v1h-19zM465 79h21v1h-21zM465 80h13v1h-13zM399 81h10v1h-10zM464 81h12v1h-12zM412 82h7v1h-7zM455 82h21v1h-21zM420 83h18v1h-18zM451 83h25v1h-25zM425 84h52v1h-52zM487 84h10v1h-10zM455 85h7v1h-7zM471 85h7v1h-7zM486 85h12v1h-12zM456 86h5v1h-5zM471 86h7v1h-7zM486 86h12v1h-12zM472 87h6v1h-6zM487 87h10v1h-10zM501 91h6v1h-6zM500 92h9v1h-9zM499 93h10v1h-10zM512 93h4v1h-4zM500 94h8v1h-8zM513 94h2v1h-2zM501 95h5v1h-5zM563 97h10v1h-10zM560 98h20v1h-20zM561 99h21v1h-21zM561 100h22v1h-22zM563 101h21v1h-21zM566 102h19v1h-19zM566 103h19v1h-19zM566 104h19v1h-19zM559 105h2v1h-2zM567 105h18v1h-18zM558 106h4v1h-4zM567 106h18v1h-18zM558 107h5v1h-5zM567 107h20v1h-20zM558 108h4v1h-4zM567 108h23v1h-23zM609 108h5v1h-5zM541 109h5v1h-5zM558 109h4v1h-4zM568 109h26v1h-26zM605 109h13v1h-13zM540 110h8v1h-8zM568 110h28v1h-28zM603 110h3v1h-3zM609 110h12v1h-12zM540 111h9v1h-9zM568 111h29v1h-29zM602 111h2v1h-2zM610 111h12v1h-12zM540 112h10v1h-10zM569 112h35v1h-35zM610 112h12v1h-12zM540 113h9v1h-9zM569 113h35v1h-35zM610 113h13v1h-13zM540 114h6v1h-6zM571 114h34v1h-34zM609 114h14v1h-14zM575 115h50v1h-50zM553 116h15v1h-15zM574 116h65v1h-65zM552 117h18v1h-18zM573 117h68v1h-68zM553 118h88v1h-88zM559 119h36v1h-36zM597 119h44v1h-44zM559 120h36v1h-36zM598 120h43v1h-43zM559 121h42v1h-42zM607 121h34v1h-34zM549 122h4v1h-4zM560 122h12v1h-12zM574 122h26v1h-26zM608 122h33v1h-33zM549 123h4v1h-4zM561 123h10v1h-10zM574 123h26v1h-26zM608 123h33v1h-33zM550 124h2v1h-2zM563 124h5v1h-5zM574 124h13v1h-13zM590 124h10v1h-10zM608 124h33v1h-33zM575 125h11v1h-11zM590 125h12v1h-12zM606 125h35v1h-35zM575 126h12v1h-12zM590 126h51v1h-51zM575 127h37v1h-37zM616 127h25v1h-25zM576 128h36v1h-36zM616 128h25v1h-25zM577 129h20v1h-20zM598 129h43v1h-43zM578 130h18v1h-18zM599 130h42v1h-42zM580 131h16v1h-16zM600 131h39v1h-39zM579 132h3v1h-3zM585 132h11v1h-11zM599 132h24v1h-24zM629 132h7v1h-7zM578 133h5v1h-5zM590 133h31v1h-31zM578 134h5v1h-5zM591 134h28v1h-28zM580 135h2v1h-2zM592 135h24v1h-24zM592 136h21v1h-21zM593 137h17v1h-17zM594 138h14v1h-14zM603 139h3v1h-3z"/><path fill="#ff3c00" d="M385 74h7v1h-7zM427 74h13v1h-13zM441 75h15v1h-15zM461 75h4v1h-4zM462 76h5v1h-5zM462 77h5v1h-5zM462 78h5v1h-5zM454 79h11v1h-11zM381 80h15v1h-15zM452 80h13v1h-13zM409 81h9v1h-9zM437 81h27v1h-27zM419 82h36v1h-36zM438 83h13v1h-13zM595 119h2v1h-2zM595 120h3v1h-3zM601 121h6v1h-6zM600 122h8v1h-8zM600 123h8v1h-8zM587 124h3v1h-3zM600 124h8v1h-8zM586 125h4v1h-4zM602 125h4v1h-4zM587 126h3v1h-3zM612 127h4v1h-4zM612 128h4v1h-4zM597 129h1v1h-1zM596 130h3v1h-3zM596 131h4v1h-4zM596 132h3v1h-3z"/><path fill="#ff0000" d="M381 74h4v1h-4zM381 75h60v1h-60zM456 75h5v1h-5zM381 76h81v1h-81zM381 77h81v1h-81zM381 78h81v1h-81zM381 79h73v1h-73zM396 80h56v1h-56zM418 81h19v1h-19z"/><path d="M382.3 39.5v4M382.3 140.5v-4M393.3 39.5v4M393.3 140.5v-4M404.2 39.5v4M404.2 140.5v-4M415.2 39.5v7M415.2 140.5v-7M426.2 39.5v4M426.2 140.5v-4M437.1 39.5v4M437.1 140.5v-4M448.1 39.5v4M448.1 140.5v-4M459.1 39.5v7M459.1 140.5v-7M470.0 39.5v4M470.0 140.5v-4M481.0 39.5v4M481.0 140.5v-4M492.0 39.5v4M492.0 140.5v-4M502.9 39.5v7M502.9 140.5v-7M513.9 39.5v4M513.9 140.5v-4M524.9 39.5v4M524.9 140.5v-4M535.8 39.5v4M535.8 140.5v-4M546.8 39.5v7M546.8 140.5v-7M557.7 39.5v4M557.7 140.5v-4M568.7 39.5v4M568.7 140.5v-4M579.7 39.5v4M579.7 140.5v-4M590.6 39.5v7M590.6 140.5v-7M601.6 39.5v4M601.6 140.5v-4M612.6 39.5v4M612.6 140.5v-4M623.5 39.5v4M623.5 140.5v-4M634.5 39.5v7M634.5 140.5v-7M380.5 121.4h7M641.5 121.4h-7M380.5 99.5h7M641.5 99.5h-7M380.5 77.5h7M641.5 77.5h-7M380.5 55.6h7M641.5 55.6h-7" stroke="#000" stroke-width="1.05" fill="none"/><rect x="380.5" y="39.5" width="261" height="101" fill="none" stroke="#000" stroke-width="1"/><text x="415.2" y="152.5" text-anchor="middle" class="t">0.2</text><text x="459.1" y="152.5" text-anchor="middle" class="t">0.4</text><text x="502.9" y="152.5" text-anchor="middle" class="t">0.6</text><text x="546.8" y="152.5" text-anchor="middle" class="t">0.8</text><text x="590.6" y="152.5" text-anchor="middle" class="t">1</text><text x="634.5" y="152.5" text-anchor="middle" class="t">1.2</text><text x="378.5" y="125.0" text-anchor="end" class="t">0.1</text><text x="378.5" y="103.1" text-anchor="end" class="t">0.2</text><text x="378.5" y="81.1" text-anchor="end" class="t">0.3</text><text x="378.5" y="59.2" text-anchor="end" class="t">0.4</text><rect x="647.0" y="38.40" width="14.2" height="5.10" fill="#ff0000"/><rect x="647.0" y="43.50" width="14.2" height="9.11" fill="#ff3c00"/><rect x="647.0" y="52.61" width="14.2" height="9.11" fill="#ff8c00"/><rect x="647.0" y="61.72" width="14.2" height="9.11" fill="#ffd000"/><rect x="647.0" y="70.83" width="14.2" height="9.11" fill="#d8ff00"/><rect x="647.0" y="79.94" width="14.2" height="9.11" fill="#38f800"/><rect x="647.0" y="89.05" width="14.2" height="9.11" fill="#00f040"/><rect x="647.0" y="98.16" width="14.2" height="9.11" fill="#00ffd8"/><rect x="647.0" y="107.27" width="14.2" height="9.11" fill="#00d8ff"/><rect x="647.0" y="116.38" width="14.2" height="9.11" fill="#008cff"/><rect x="647.0" y="125.49" width="14.2" height="9.11" fill="#0038ff"/><rect x="647.0" y="134.60" width="14.2" height="5.10" fill="#0000f0"/><text x="668.6" y="48.4" class="t">0.5</text><text x="668.6" y="66.7" class="t">0.4</text><text x="668.6" y="85.0" class="t">0.3</text><text x="668.6" y="103.4" class="t">0.2</text><text x="668.6" y="121.7" class="t">0.1</text><text x="668.6" y="140.0" class="t">0</text><text class="ct"><tspan x="578.2" y="27.8">(</tspan><tspan x="581.9" y="27.8">u</tspan><tspan x="590.0" y="32.3" class="sub">PIV</tspan><tspan x="607.0" y="27.8">-</tspan><tspan x="613.9" y="27.8">u</tspan><tspan x="622.4" y="32.3" class="sub">REF</tspan><tspan x="638.4" y="27.8">)</tspan><tspan x="642.5" y="32.3" class="sub">RMS</tspan><tspan x="663.5" y="27.8" letter-spacing="0.6">[vx]</tspan></text><text transform="translate(359.8 89.9) rotate(-90)" text-anchor="middle" class="ax">y/D</text><path fill="#0038ff" d="M31 184h260v1h-260zM31 185h260v1h-260zM31 186h260v1h-260zM31 187h260v1h-260zM31 188h260v1h-260zM31 189h260v1h-260zM31 190h260v1h-260zM31 191h260v1h-260zM31 192h260v1h-260zM31 193h260v1h-260zM31 194h260v1h-260zM31 195h260v1h-260zM31 196h260v1h-260zM31 197h260v1h-260zM31 198h260v1h-260zM31 199h260v1h-260zM31 200h260v1h-260zM31 201h260v1h-260zM31 202h260v1h-260zM31 203h260v1h-260zM31 204h260v1h-260zM31 205h260v1h-260zM31 206h127v1h-127zM206 206h85v1h-85zM31 207h118v1h-118zM220 207h71v1h-71zM31 208h114v1h-114zM234 208h57v1h-57zM31 209h102v1h-102zM248 209h43v1h-43zM31 210h91v1h-91zM263 210h28v1h-28zM31 211h80v1h-80zM277 211h14v1h-14zM31 212h56v1h-56zM31 213h34v1h-34zM31 214h23v1h-23zM31 215h10v1h-10z"/><path fill="#008cff" d="M158 206h48v1h-48zM149 207h71v1h-71zM145 208h89v1h-89zM133 209h115v1h-115zM122 210h141v1h-141zM111 211h166v1h-166zM87 212h204v1h-204zM65 213h226v1h-226zM54 214h71v1h-71zM148 214h143v1h-143zM41 215h63v1h-63zM168 215h123v1h-123zM31 216h32v1h-32zM188 216h103v1h-103zM201 217h90v1h-90zM208 218h83v1h-83zM216 219h75v1h-75zM224 220h67v1h-67zM235 221h56v1h-56zM242 222h49v1h-49zM249 223h42v1h-42zM257 224h34v1h-34zM268 225h23v1h-23zM277 226h14v1h-14zM46 229h6v1h-6zM45 230h9v1h-9zM44 231h12v1h-12zM44 232h14v1h-14zM43 233h18v1h-18zM42 234h20v1h-20zM41 235h21v1h-21zM39 236h23v1h-23zM38 237h24v1h-24zM36 238h27v1h-27zM34 239h23v1h-23zM60 239h3v1h-3zM33 240h24v1h-24zM59 240h5v1h-5zM33 241h32v1h-32zM33 242h18v1h-18zM52 242h14v1h-14zM33 243h17v1h-17zM53 243h14v1h-14zM33 244h4v1h-4zM43 244h6v1h-6zM54 244h12v1h-12zM44 245h5v1h-5zM55 245h10v1h-10zM44 246h5v1h-5zM55 246h9v1h-9zM44 247h5v1h-5zM55 247h9v1h-9zM44 248h5v1h-5zM55 248h8v1h-8zM45 249h4v1h-4zM56 249h7v1h-7zM45 250h4v1h-4zM56 250h6v1h-6zM45 251h4v1h-4zM56 251h6v1h-6zM45 252h4v1h-4zM56 252h5v1h-5zM45 253h4v1h-4zM57 253h3v1h-3zM45 254h4v1h-4zM58 254h1v1h-1zM66 254h2v1h-2zM45 255h4v1h-4zM65 255h4v1h-4zM45 256h3v1h-3zM65 256h4v1h-4zM66 257h2v1h-2z"/><path fill="#00d8ff" d="M125 214h23v1h-23zM104 215h64v1h-64zM63 216h125v1h-125zM31 217h75v1h-75zM134 217h67v1h-67zM31 218h13v1h-13zM146 218h62v1h-62zM158 219h58v1h-58zM159 220h65v1h-65zM164 221h71v1h-71zM175 222h67v1h-67zM184 223h65v1h-65zM31 224h1v1h-1zM191 224h66v1h-66zM31 225h14v1h-14zM201 225h67v1h-67zM31 226h24v1h-24zM205 226h72v1h-72zM31 227h32v1h-32zM213 227h78v1h-78zM31 228h38v1h-38zM222 228h69v1h-69zM31 229h15v1h-15zM52 229h23v1h-23zM224 229h67v1h-67zM31 230h14v1h-14zM54 230h25v1h-25zM235 230h56v1h-56zM31 231h13v1h-13zM56 231h27v1h-27zM235 231h56v1h-56zM31 232h13v1h-13zM58 232h29v1h-29zM242 232h49v1h-49zM31 233h12v1h-12zM61 233h27v1h-27zM255 233h36v1h-36zM31 234h11v1h-11zM62 234h28v1h-28zM266 234h25v1h-25zM31 235h10v1h-10zM62 235h32v1h-32zM279 235h12v1h-12zM31 236h8v1h-8zM62 236h38v1h-38zM31 237h7v1h-7zM62 237h42v1h-42zM31 238h5v1h-5zM63 238h44v1h-44zM31 239h3v1h-3zM57 239h3v1h-3zM63 239h45v1h-45zM31 240h2v1h-2zM57 240h2v1h-2zM64 240h45v1h-45zM31 241h2v1h-2zM65 241h45v1h-45zM31 242h2v1h-2zM51 242h1v1h-1zM66 242h44v1h-44zM31 243h2v1h-2zM50 243h3v1h-3zM67 243h44v1h-44zM31 244h2v1h-2zM37 244h6v1h-6zM49 244h5v1h-5zM66 244h46v1h-46zM31 245h13v1h-13zM49 245h6v1h-6zM65 245h47v1h-47zM31 246h13v1h-13zM49 246h6v1h-6zM64 246h48v1h-48zM31 247h13v1h-13zM49 247h6v1h-6zM64 247h49v1h-49zM31 248h13v1h-13zM49 248h6v1h-6zM63 248h50v1h-50zM31 249h14v1h-14zM49 249h7v1h-7zM63 249h50v1h-50zM31 250h14v1h-14zM49 250h7v1h-7zM62 250h50v1h-50zM31 251h14v1h-14zM49 251h7v1h-7zM62 251h49v1h-49zM31 252h14v1h-14zM49 252h7v1h-7zM61 252h49v1h-49zM31 253h14v1h-14zM49 253h8v1h-8zM60 253h43v1h-43zM31 254h14v1h-14zM49 254h9v1h-9zM59 254h7v1h-7zM68 254h34v1h-34zM31 255h14v1h-14zM49 255h16v1h-16zM69 255h33v1h-33zM31 256h14v1h-14zM48 256h17v1h-17zM69 256h33v1h-33zM31 257h35v1h-35zM68 257h35v1h-35zM31 258h73v1h-73zM31 259h74v1h-74zM31 260h75v1h-75zM31 261h76v1h-76zM31 262h76v1h-76zM31 263h77v1h-77zM31 264h77v1h-77zM31 265h77v1h-77zM31 266h77v1h-77zM31 267h76v1h-76zM31 268h76v1h-76zM31 269h75v1h-75zM31 270h74v1h-74zM31 271h71v1h-71zM31 272h52v1h-52zM84 272h16v1h-16zM31 273h51v1h-51zM85 273h13v1h-13zM31 274h50v1h-50zM86 274h10v1h-10zM31 275h49v1h-49zM31 276h47v1h-47zM31 277h45v1h-45zM31 278h16v1h-16zM59 278h15v1h-15zM31 279h14v1h-14zM62 279h10v1h-10zM31 280h13v1h-13zM67 280h3v1h-3zM31 281h12v1h-12zM31 282h11v1h-11zM31 283h10v1h-10z"/><path fill="#00ffd8" d="M106 217h28v1h-28zM44 218h102v1h-102zM115 219h43v1h-43zM135 220h24v1h-24zM139 221h25v1h-25zM147 222h28v1h-28zM158 223h26v1h-26zM32 224h13v1h-13zM169 224h22v1h-22zM45 225h11v1h-11zM175 225h26v1h-26zM55 226h11v1h-11zM182 226h23v1h-23zM63 227h11v1h-11zM191 227h22v1h-22zM69 228h12v1h-12zM198 228h24v1h-24zM75 229h11v1h-11zM202 229h22v1h-22zM79 230h9v1h-9zM212 230h23v1h-23zM83 231h9v1h-9zM213 231h22v1h-22zM87 232h10v1h-10zM219 232h23v1h-23zM88 233h18v1h-18zM224 233h31v1h-31zM90 234h22v1h-22zM224 234h42v1h-42zM94 235h24v1h-24zM235 235h44v1h-44zM100 236h22v1h-22zM235 236h56v1h-56zM104 237h22v1h-22zM244 237h47v1h-47zM107 238h21v1h-21zM252 238h39v1h-39zM108 239h22v1h-22zM260 239h31v1h-31zM109 240h22v1h-22zM268 240h23v1h-23zM110 241h23v1h-23zM279 241h12v1h-12zM110 242h26v1h-26zM111 243h28v1h-28zM112 244h30v1h-30zM112 245h31v1h-31zM112 246h31v1h-31zM113 247h30v1h-30zM113 248h30v1h-30zM113 249h30v1h-30zM112 250h30v1h-30zM111 251h30v1h-30zM110 252h31v1h-31zM103 253h38v1h-38zM102 254h39v1h-39zM102 255h38v1h-38zM102 256h38v1h-38zM103 257h37v1h-37zM104 258h36v1h-36zM105 259h35v1h-35zM106 260h34v1h-34zM107 261h34v1h-34zM107 262h35v1h-35zM108 263h34v1h-34zM108 264h35v1h-35zM108 265h36v1h-36zM108 266h36v1h-36zM107 267h37v1h-37zM107 268h37v1h-37zM106 269h38v1h-38zM153 269h3v1h-3zM105 270h39v1h-39zM152 270h4v1h-4zM102 271h43v1h-43zM152 271h5v1h-5zM83 272h1v1h-1zM100 272h45v1h-45zM152 272h4v1h-4zM82 273h3v1h-3zM98 273h47v1h-47zM81 274h5v1h-5zM96 274h49v1h-49zM80 275h65v1h-65zM78 276h67v1h-67zM76 277h69v1h-69zM47 278h12v1h-12zM74 278h71v1h-71zM45 279h17v1h-17zM72 279h74v1h-74zM44 280h23v1h-23zM70 280h76v1h-76zM43 281h103v1h-103zM42 282h104v1h-104zM41 283h105v1h-105z"/><path fill="#00f040" d="M36 219h16v1h-16zM56 219h59v1h-59zM113 220h22v1h-22zM125 221h14v1h-14zM136 222h11v1h-11zM136 223h22v1h-22zM45 224h2v1h-2zM136 224h33v1h-33zM56 225h25v1h-25zM136 225h39v1h-39zM66 226h16v1h-16zM136 226h46v1h-46zM74 227h8v1h-8zM104 227h11v1h-11zM126 227h65v1h-65zM81 228h15v1h-15zM100 228h98v1h-98zM86 229h116v1h-116zM88 230h124v1h-124zM92 231h121v1h-121zM97 232h122v1h-122zM106 233h42v1h-42zM151 233h73v1h-73zM112 234h35v1h-35zM151 234h73v1h-73zM118 235h30v1h-30zM151 235h84v1h-84zM122 236h27v1h-27zM150 236h85v1h-85zM126 237h64v1h-64zM192 237h52v1h-52zM128 238h53v1h-53zM198 238h13v1h-13zM219 238h33v1h-33zM130 239h48v1h-48zM222 239h38v1h-38zM131 240h35v1h-35zM224 240h44v1h-44zM133 241h30v1h-30zM226 241h53v1h-53zM136 242h25v1h-25zM228 242h63v1h-63zM139 243h22v1h-22zM229 243h62v1h-62zM142 244h19v1h-19zM238 244h53v1h-53zM143 245h18v1h-18zM259 245h32v1h-32zM143 246h20v1h-20zM279 246h12v1h-12zM143 247h23v1h-23zM143 248h24v1h-24zM143 249h26v1h-26zM142 250h29v1h-29zM141 251h31v1h-31zM141 252h32v1h-32zM141 253h32v1h-32zM141 254h32v1h-32zM140 255h34v1h-34zM140 256h34v1h-34zM140 257h34v1h-34zM140 258h35v1h-35zM140 259h36v1h-36zM140 260h37v1h-37zM141 261h37v1h-37zM142 262h37v1h-37zM142 263h38v1h-38zM143 264h39v1h-39zM144 265h39v1h-39zM144 266h40v1h-40zM144 267h41v1h-41zM144 268h42v1h-42zM144 269h9v1h-9zM156 269h31v1h-31zM144 270h8v1h-8zM156 270h32v1h-32zM145 271h7v1h-7zM157 271h32v1h-32zM145 272h7v1h-7zM156 272h34v1h-34zM145 273h46v1h-46zM145 274h46v1h-46zM145 275h47v1h-47zM145 276h47v1h-47zM145 277h48v1h-48zM145 278h48v1h-48zM146 279h47v1h-47zM146 280h48v1h-48zM146 281h48v1h-48zM146 282h48v1h-48zM146 283h49v1h-49z"/><path fill="#38f800" d="M31 219h5v1h-5zM52 219h4v1h-4zM76 220h37v1h-37zM82 221h43v1h-43zM88 222h48v1h-48zM31 223h8v1h-8zM93 223h43v1h-43zM47 224h22v1h-22zM103 224h33v1h-33zM81 225h12v1h-12zM103 225h33v1h-33zM82 226h54v1h-54zM82 227h22v1h-22zM115 227h11v1h-11zM96 228h4v1h-4zM148 233h3v1h-3zM147 234h4v1h-4zM148 235h3v1h-3zM149 236h1v1h-1zM190 237h2v1h-2zM181 238h17v1h-17zM211 238h8v1h-8zM178 239h44v1h-44zM166 240h58v1h-58zM163 241h63v1h-63zM161 242h67v1h-67zM161 243h68v1h-68zM161 244h77v1h-77zM161 245h98v1h-98zM163 246h116v1h-116zM166 247h125v1h-125zM167 248h124v1h-124zM169 249h122v1h-122zM171 250h58v1h-58zM231 250h60v1h-60zM172 251h56v1h-56zM231 251h60v1h-60zM173 252h54v1h-54zM232 252h59v1h-59zM173 253h53v1h-53zM232 253h12v1h-12zM249 253h42v1h-42zM173 254h52v1h-52zM232 254h9v1h-9zM252 254h39v1h-39zM174 255h50v1h-50zM233 255h6v1h-6zM254 255h7v1h-7zM264 255h27v1h-27zM174 256h50v1h-50zM233 256h4v1h-4zM255 256h5v1h-5zM265 256h26v1h-26zM174 257h22v1h-22zM205 257h5v1h-5zM214 257h9v1h-9zM257 257h1v1h-1zM266 257h13v1h-13zM282 257h9v1h-9zM175 258h19v1h-19zM206 258h3v1h-3zM215 258h7v1h-7zM270 258h7v1h-7zM286 258h5v1h-5zM176 259h17v1h-17zM206 259h3v1h-3zM215 259h7v1h-7zM177 260h17v1h-17zM205 260h4v1h-4zM216 260h5v1h-5zM178 261h16v1h-16zM205 261h3v1h-3zM216 261h5v1h-5zM179 262h15v1h-15zM204 262h4v1h-4zM217 262h4v1h-4zM180 263h14v1h-14zM204 263h4v1h-4zM217 263h4v1h-4zM251 263h5v1h-5zM265 263h8v1h-8zM182 264h12v1h-12zM203 264h5v1h-5zM217 264h4v1h-4zM250 264h7v1h-7zM264 264h11v1h-11zM183 265h12v1h-12zM202 265h6v1h-6zM218 265h3v1h-3zM249 265h8v1h-8zM265 265h12v1h-12zM184 266h11v1h-11zM202 266h6v1h-6zM218 266h3v1h-3zM249 266h9v1h-9zM265 266h13v1h-13zM185 267h10v1h-10zM202 267h6v1h-6zM215 267h9v1h-9zM249 267h8v1h-8zM265 267h13v1h-13zM186 268h9v1h-9zM202 268h6v1h-6zM215 268h10v1h-10zM250 268h7v1h-7zM265 268h13v1h-13zM187 269h8v1h-8zM203 269h5v1h-5zM215 269h11v1h-11zM251 269h5v1h-5zM266 269h11v1h-11zM188 270h8v1h-8zM204 270h4v1h-4zM215 270h12v1h-12zM266 270h11v1h-11zM189 271h7v1h-7zM204 271h5v1h-5zM215 271h12v1h-12zM266 271h11v1h-11zM190 272h6v1h-6zM205 272h4v1h-4zM215 272h12v1h-12zM267 272h9v1h-9zM191 273h6v1h-6zM205 273h4v1h-4zM215 273h11v1h-11zM268 273h7v1h-7zM191 274h7v1h-7zM206 274h4v1h-4zM215 274h11v1h-11zM269 274h4v1h-4zM192 275h7v1h-7zM204 275h7v1h-7zM215 275h10v1h-10zM270 275h1v1h-1zM192 276h20v1h-20zM214 276h11v1h-11zM193 277h32v1h-32zM193 278h28v1h-28zM193 279h28v1h-28zM194 280h27v1h-27zM194 281h15v1h-15zM194 282h14v1h-14zM195 283h13v1h-13z"/><path fill="#d8ff00" d="M38 220h38v1h-38zM61 221h21v1h-21zM79 222h9v1h-9zM39 223h14v1h-14zM81 223h12v1h-12zM69 224h34v1h-34zM93 225h10v1h-10zM229 250h2v1h-2zM228 251h3v1h-3zM227 252h5v1h-5zM226 253h6v1h-6zM244 253h5v1h-5zM225 254h7v1h-7zM241 254h11v1h-11zM224 255h9v1h-9zM239 255h15v1h-15zM261 255h3v1h-3zM224 256h9v1h-9zM237 256h18v1h-18zM260 256h5v1h-5zM196 257h9v1h-9zM210 257h4v1h-4zM223 257h34v1h-34zM258 257h8v1h-8zM279 257h3v1h-3zM194 258h12v1h-12zM209 258h6v1h-6zM222 258h48v1h-48zM277 258h9v1h-9zM193 259h13v1h-13zM209 259h6v1h-6zM222 259h69v1h-69zM194 260h11v1h-11zM209 260h7v1h-7zM221 260h70v1h-70zM194 261h11v1h-11zM208 261h8v1h-8zM221 261h70v1h-70zM194 262h10v1h-10zM208 262h9v1h-9zM221 262h70v1h-70zM194 263h10v1h-10zM208 263h9v1h-9zM221 263h30v1h-30zM256 263h9v1h-9zM273 263h18v1h-18zM194 264h9v1h-9zM208 264h9v1h-9zM221 264h29v1h-29zM257 264h7v1h-7zM275 264h16v1h-16zM195 265h7v1h-7zM208 265h10v1h-10zM221 265h25v1h-25zM248 265h1v1h-1zM257 265h8v1h-8zM277 265h14v1h-14zM195 266h7v1h-7zM208 266h10v1h-10zM221 266h25v1h-25zM248 266h1v1h-1zM258 266h7v1h-7zM278 266h13v1h-13zM195 267h7v1h-7zM208 267h7v1h-7zM224 267h25v1h-25zM257 267h8v1h-8zM278 267h13v1h-13zM195 268h7v1h-7zM208 268h7v1h-7zM225 268h25v1h-25zM257 268h8v1h-8zM278 268h13v1h-13zM195 269h8v1h-8zM208 269h7v1h-7zM226 269h25v1h-25zM256 269h6v1h-6zM264 269h2v1h-2zM277 269h14v1h-14zM196 270h8v1h-8zM208 270h7v1h-7zM227 270h34v1h-34zM265 270h1v1h-1zM277 270h14v1h-14zM196 271h8v1h-8zM209 271h6v1h-6zM227 271h34v1h-34zM265 271h1v1h-1zM277 271h14v1h-14zM196 272h9v1h-9zM209 272h6v1h-6zM227 272h19v1h-19zM248 272h13v1h-13zM265 272h2v1h-2zM276 272h15v1h-15zM197 273h8v1h-8zM209 273h6v1h-6zM226 273h19v1h-19zM249 273h13v1h-13zM264 273h4v1h-4zM275 273h16v1h-16zM198 274h8v1h-8zM210 274h5v1h-5zM226 274h18v1h-18zM250 274h19v1h-19zM273 274h18v1h-18zM199 275h5v1h-5zM211 275h4v1h-4zM225 275h19v1h-19zM251 275h19v1h-19zM271 275h20v1h-20zM212 276h2v1h-2zM225 276h19v1h-19zM251 276h40v1h-40zM225 277h19v1h-19zM250 277h41v1h-41zM221 278h24v1h-24zM250 278h41v1h-41zM221 279h25v1h-25zM249 279h42v1h-42zM221 280h70v1h-70zM209 281h82v1h-82zM208 282h83v1h-83zM208 283h83v1h-83z"/><path fill="#ffd000" d="M31 220h7v1h-7zM42 221h19v1h-19zM31 222h48v1h-48zM53 223h28v1h-28zM246 265h2v1h-2zM246 266h2v1h-2zM262 269h2v1h-2zM261 270h4v1h-4zM261 271h4v1h-4zM246 272h2v1h-2zM261 272h4v1h-4zM245 273h4v1h-4zM262 273h2v1h-2zM244 274h6v1h-6zM244 275h7v1h-7zM244 276h7v1h-7zM244 277h6v1h-6zM245 278h5v1h-5zM246 279h3v1h-3z"/><path fill="#ff8c00" d="M34 221h8v1h-8z"/><path fill="#ff3c00" d="M31 221h3v1h-3z"/><path d="M32.3 183.5v4M32.3 284.5v-4M43.3 183.5v4M43.3 284.5v-4M54.2 183.5v4M54.2 284.5v-4M65.2 183.5v7M65.2 284.5v-7M76.2 183.5v4M76.2 284.5v-4M87.1 183.5v4M87.1 284.5v-4M98.1 183.5v4M98.1 284.5v-4M109.1 183.5v7M109.1 284.5v-7M120.0 183.5v4M120.0 284.5v-4M131.0 183.5v4M131.0 284.5v-4M142.0 183.5v4M142.0 284.5v-4M152.9 183.5v7M152.9 284.5v-7M163.9 183.5v4M163.9 284.5v-4M174.9 183.5v4M174.9 284.5v-4M185.8 183.5v4M185.8 284.5v-4M196.8 183.5v7M196.8 284.5v-7M207.7 183.5v4M207.7 284.5v-4M218.7 183.5v4M218.7 284.5v-4M229.7 183.5v4M229.7 284.5v-4M240.6 183.5v7M240.6 284.5v-7M251.6 183.5v4M251.6 284.5v-4M262.6 183.5v4M262.6 284.5v-4M273.5 183.5v4M273.5 284.5v-4M284.5 183.5v7M284.5 284.5v-7M30.5 265.4h7M291.5 265.4h-7M30.5 243.5h7M291.5 243.5h-7M30.5 221.5h7M291.5 221.5h-7M30.5 199.6h7M291.5 199.6h-7" stroke="#000" stroke-width="1.05" fill="none"/><rect x="30.5" y="183.5" width="261" height="101" fill="none" stroke="#000" stroke-width="1"/><text x="65.2" y="296.5" text-anchor="middle" class="t">0.2</text><text x="109.1" y="296.5" text-anchor="middle" class="t">0.4</text><text x="152.9" y="296.5" text-anchor="middle" class="t">0.6</text><text x="196.8" y="296.5" text-anchor="middle" class="t">0.8</text><text x="240.6" y="296.5" text-anchor="middle" class="t">1</text><text x="284.5" y="296.5" text-anchor="middle" class="t">1.2</text><text x="28.5" y="269.0" text-anchor="end" class="t">0.1</text><text x="28.5" y="247.1" text-anchor="end" class="t">0.2</text><text x="28.5" y="225.1" text-anchor="end" class="t">0.3</text><text x="28.5" y="203.2" text-anchor="end" class="t">0.4</text><rect x="297.0" y="182.40" width="14.2" height="5.10" fill="#ff0000"/><rect x="297.0" y="187.50" width="14.2" height="9.11" fill="#ff3c00"/><rect x="297.0" y="196.61" width="14.2" height="9.11" fill="#ff8c00"/><rect x="297.0" y="205.72" width="14.2" height="9.11" fill="#ffd000"/><rect x="297.0" y="214.83" width="14.2" height="9.11" fill="#d8ff00"/><rect x="297.0" y="223.94" width="14.2" height="9.11" fill="#38f800"/><rect x="297.0" y="233.05" width="14.2" height="9.11" fill="#00f040"/><rect x="297.0" y="242.16" width="14.2" height="9.11" fill="#00ffd8"/><rect x="297.0" y="251.27" width="14.2" height="9.11" fill="#00d8ff"/><rect x="297.0" y="260.38" width="14.2" height="9.11" fill="#008cff"/><rect x="297.0" y="269.49" width="14.2" height="9.11" fill="#0038ff"/><rect x="297.0" y="278.60" width="14.2" height="5.10" fill="#0000f0"/><text x="318.6" y="192.4" class="t">0.5</text><text x="318.6" y="210.7" class="t">0.4</text><text x="318.6" y="229.0" class="t">0.3</text><text x="318.6" y="247.4" class="t">0.2</text><text x="318.6" y="265.7" class="t">0.1</text><text x="318.6" y="284.0" class="t">0</text><text class="ct"><tspan x="229.4" y="171.8">(</tspan><tspan x="232.4" y="171.8">v</tspan><tspan x="241.0" y="176.3" class="sub">PIV</tspan><tspan x="257.0" y="171.8">-</tspan><tspan x="263.6" y="171.8">v</tspan><tspan x="272.4" y="176.3" class="sub">REF</tspan><tspan x="288.4" y="171.8">)</tspan><tspan x="292.5" y="176.3" class="sub">RMS</tspan><tspan x="313.5" y="171.8" letter-spacing="0.6">[vx]</tspan></text><text transform="translate(9.8 233.9) rotate(-90)" text-anchor="middle" class="ax">y/D</text><path fill="#0038ff" d="M613 186h13v1h-13zM592 187h3v1h-3zM613 187h13v1h-13zM629 187h2v1h-2zM592 188h3v1h-3zM614 188h11v1h-11zM629 188h2v1h-2zM615 189h8v1h-8z"/><path fill="#008cff" d="M381 184h260v1h-260zM381 185h260v1h-260zM381 186h232v1h-232zM626 186h15v1h-15zM381 187h211v1h-211zM595 187h18v1h-18zM626 187h3v1h-3zM631 187h10v1h-10zM381 188h211v1h-211zM595 188h19v1h-19zM625 188h4v1h-4zM631 188h10v1h-10zM381 189h234v1h-234zM623 189h18v1h-18zM381 190h260v1h-260zM381 191h260v1h-260zM381 192h260v1h-260zM381 193h260v1h-260zM381 194h260v1h-260zM381 195h260v1h-260zM381 196h260v1h-260zM381 197h260v1h-260zM381 198h260v1h-260zM381 199h260v1h-260zM381 200h260v1h-260zM381 201h260v1h-260zM381 202h260v1h-260zM381 203h260v1h-260zM381 204h260v1h-260zM381 205h260v1h-260zM381 206h260v1h-260zM381 207h260v1h-260zM381 208h260v1h-260zM381 209h260v1h-260zM381 210h260v1h-260zM381 211h260v1h-260zM381 212h260v1h-260zM381 213h100v1h-100zM518 213h123v1h-123zM381 214h81v1h-81zM531 214h110v1h-110zM381 215h63v1h-63zM547 215h94v1h-94zM381 216h61v1h-61zM556 216h85v1h-85zM570 217h71v1h-71zM583 218h58v1h-58zM596 219h45v1h-45zM607 220h34v1h-34zM621 221h20v1h-20zM629 222h12v1h-12zM630 223h11v1h-11zM398 237h1v1h-1zM398 238h1v1h-1z"/><path fill="#00d8ff" d="M481 213h37v1h-37zM462 214h69v1h-69zM444 215h103v1h-103zM442 216h28v1h-28zM501 216h55v1h-55zM381 217h71v1h-71zM519 217h51v1h-51zM528 218h55v1h-55zM538 219h58v1h-58zM547 220h60v1h-60zM552 221h69v1h-69zM563 222h66v1h-66zM572 223h58v1h-58zM585 224h56v1h-56zM591 225h50v1h-50zM381 226h18v1h-18zM600 226h41v1h-41zM381 227h27v1h-27zM610 227h31v1h-31zM381 228h33v1h-33zM618 228h23v1h-23zM381 229h36v1h-36zM625 229h16v1h-16zM381 230h37v1h-37zM381 231h39v1h-39zM381 232h46v1h-46zM381 233h48v1h-48zM381 234h49v1h-49zM381 235h50v1h-50zM381 236h50v1h-50zM381 237h17v1h-17zM399 237h33v1h-33zM381 238h17v1h-17zM399 238h33v1h-33zM436 238h9v1h-9zM381 239h52v1h-52zM434 239h13v1h-13zM381 240h68v1h-68zM381 241h68v1h-68zM381 242h68v1h-68zM381 243h67v1h-67zM381 244h51v1h-51zM435 244h11v1h-11zM381 245h51v1h-51zM381 246h51v1h-51zM381 247h51v1h-51zM440 247h3v1h-3zM381 248h51v1h-51zM439 248h6v1h-6zM381 249h52v1h-52zM438 249h7v1h-7zM381 250h52v1h-52zM438 250h8v1h-8zM381 251h53v1h-53zM437 251h9v1h-9zM381 252h53v1h-53zM437 252h9v1h-9zM381 253h53v1h-53zM437 253h10v1h-10zM381 254h53v1h-53zM437 254h10v1h-10zM381 255h53v1h-53zM437 255h10v1h-10zM381 256h53v1h-53zM437 256h10v1h-10zM381 257h53v1h-53zM437 257h10v1h-10zM381 258h52v1h-52zM437 258h9v1h-9zM381 259h52v1h-52zM438 259h8v1h-8zM381 260h52v1h-52zM438 260h7v1h-7zM381 261h52v1h-52zM439 261h6v1h-6zM381 262h51v1h-51zM440 262h4v1h-4zM381 263h51v1h-51zM381 264h50v1h-50zM381 265h50v1h-50zM381 266h50v1h-50zM381 267h49v1h-49zM381 268h47v1h-47zM381 269h45v1h-45zM381 270h35v1h-35zM381 271h31v1h-31zM381 272h6v1h-6zM388 272h9v1h-9zM405 272h6v1h-6zM381 273h4v1h-4zM407 273h4v1h-4zM381 274h3v1h-3zM408 274h3v1h-3zM381 275h2v1h-2z"/><path fill="#00ffd8" d="M470 216h31v1h-31zM452 217h67v1h-67zM381 218h89v1h-89zM497 218h31v1h-31zM505 219h33v1h-33zM514 220h33v1h-33zM519 221h33v1h-33zM530 222h33v1h-33zM532 223h40v1h-40zM541 224h44v1h-44zM381 225h17v1h-17zM548 225h43v1h-43zM399 226h10v1h-10zM552 226h48v1h-48zM408 227h13v1h-13zM555 227h55v1h-55zM414 228h17v1h-17zM563 228h55v1h-55zM417 229h15v1h-15zM570 229h55v1h-55zM418 230h19v1h-19zM580 230h61v1h-61zM420 231h23v1h-23zM589 231h52v1h-52zM427 232h20v1h-20zM596 232h45v1h-45zM429 233h23v1h-23zM605 233h36v1h-36zM430 234h26v1h-26zM461 234h1v1h-1zM614 234h27v1h-27zM431 235h29v1h-29zM618 235h23v1h-23zM431 236h31v1h-31zM628 236h13v1h-13zM432 237h31v1h-31zM432 238h4v1h-4zM445 238h19v1h-19zM433 239h1v1h-1zM447 239h17v1h-17zM449 240h16v1h-16zM449 241h16v1h-16zM449 242h17v1h-17zM448 243h18v1h-18zM471 243h2v1h-2zM432 244h3v1h-3zM446 244h29v1h-29zM432 245h45v1h-45zM432 246h46v1h-46zM432 247h8v1h-8zM443 247h35v1h-35zM432 248h7v1h-7zM445 248h33v1h-33zM433 249h5v1h-5zM445 249h33v1h-33zM433 250h5v1h-5zM446 250h33v1h-33zM434 251h3v1h-3zM446 251h33v1h-33zM434 252h3v1h-3zM446 252h33v1h-33zM434 253h3v1h-3zM447 253h32v1h-32zM434 254h3v1h-3zM447 254h32v1h-32zM434 255h3v1h-3zM447 255h31v1h-31zM434 256h3v1h-3zM447 256h31v1h-31zM434 257h3v1h-3zM447 257h31v1h-31zM433 258h4v1h-4zM446 258h18v1h-18zM466 258h12v1h-12zM433 259h5v1h-5zM446 259h17v1h-17zM467 259h10v1h-10zM433 260h5v1h-5zM445 260h18v1h-18zM468 260h9v1h-9zM433 261h6v1h-6zM445 261h18v1h-18zM468 261h9v1h-9zM432 262h8v1h-8zM444 262h19v1h-19zM467 262h10v1h-10zM432 263h45v1h-45zM431 264h46v1h-46zM431 265h47v1h-47zM431 266h34v1h-34zM471 266h7v1h-7zM430 267h34v1h-34zM472 267h7v1h-7zM428 268h36v1h-36zM473 268h6v1h-6zM426 269h38v1h-38zM472 269h7v1h-7zM416 270h50v1h-50zM471 270h8v1h-8zM412 271h68v1h-68zM387 272h1v1h-1zM397 272h8v1h-8zM411 272h69v1h-69zM385 273h22v1h-22zM411 273h69v1h-69zM384 274h24v1h-24zM411 274h69v1h-69zM383 275h97v1h-97zM381 276h99v1h-99zM381 277h99v1h-99zM381 278h98v1h-98zM381 279h73v1h-73zM457 279h22v1h-22zM381 280h71v1h-71zM461 280h18v1h-18zM381 281h69v1h-69zM462 281h17v1h-17zM381 282h68v1h-68zM463 282h15v1h-15zM381 283h68v1h-68zM464 283h14v1h-14z"/><path fill="#00f040" d="M470 218h27v1h-27zM392 219h12v1h-12zM421 219h84v1h-84zM444 220h26v1h-26zM497 220h17v1h-17zM497 221h22v1h-22zM497 222h33v1h-33zM499 223h33v1h-33zM381 224h8v1h-8zM509 224h32v1h-32zM398 225h11v1h-11zM519 225h29v1h-29zM409 226h20v1h-20zM520 226h32v1h-32zM421 227h11v1h-11zM529 227h26v1h-26zM431 228h10v1h-10zM530 228h33v1h-33zM432 229h11v1h-11zM531 229h39v1h-39zM437 230h22v1h-22zM541 230h39v1h-39zM443 231h21v1h-21zM547 231h42v1h-42zM447 232h18v1h-18zM556 232h40v1h-40zM452 233h14v1h-14zM563 233h42v1h-42zM456 234h5v1h-5zM462 234h5v1h-5zM569 234h45v1h-45zM460 235h7v1h-7zM574 235h44v1h-44zM462 236h5v1h-5zM589 236h39v1h-39zM463 237h4v1h-4zM596 237h45v1h-45zM464 238h3v1h-3zM606 238h35v1h-35zM464 239h8v1h-8zM618 239h23v1h-23zM465 240h22v1h-22zM629 240h12v1h-12zM465 241h25v1h-25zM466 242h26v1h-26zM466 243h5v1h-5zM473 243h21v1h-21zM475 244h20v1h-20zM477 245h19v1h-19zM478 246h18v1h-18zM478 247h19v1h-19zM478 248h19v1h-19zM478 249h20v1h-20zM479 250h19v1h-19zM479 251h19v1h-19zM479 252h18v1h-18zM479 253h18v1h-18zM479 254h18v1h-18zM478 255h18v1h-18zM478 256h18v1h-18zM478 257h19v1h-19zM464 258h2v1h-2zM478 258h21v1h-21zM463 259h4v1h-4zM477 259h24v1h-24zM463 260h5v1h-5zM477 260h26v1h-26zM463 261h5v1h-5zM477 261h27v1h-27zM463 262h4v1h-4zM477 262h28v1h-28zM477 263h28v1h-28zM477 264h29v1h-29zM478 265h28v1h-28zM465 266h6v1h-6zM478 266h29v1h-29zM464 267h8v1h-8zM479 267h28v1h-28zM464 268h9v1h-9zM479 268h29v1h-29zM464 269h8v1h-8zM479 269h29v1h-29zM466 270h5v1h-5zM479 270h30v1h-30zM480 271h31v1h-31zM480 272h32v1h-32zM480 273h34v1h-34zM480 274h38v1h-38zM480 275h42v1h-42zM480 276h44v1h-44zM480 277h44v1h-44zM479 278h46v1h-46zM454 279h3v1h-3zM479 279h46v1h-46zM452 280h9v1h-9zM479 280h47v1h-47zM450 281h12v1h-12zM479 281h47v1h-47zM449 282h14v1h-14zM478 282h49v1h-49zM449 283h15v1h-15zM478 283h49v1h-49z"/><path fill="#38f800" d="M381 219h11v1h-11zM404 219h17v1h-17zM428 220h16v1h-16zM470 220h27v1h-27zM443 221h54v1h-54zM459 222h38v1h-38zM464 223h35v1h-35zM389 224h10v1h-10zM465 224h44v1h-44zM409 225h12v1h-12zM465 225h54v1h-54zM429 226h8v1h-8zM465 226h55v1h-55zM432 227h11v1h-11zM464 227h65v1h-65zM441 228h89v1h-89zM443 229h88v1h-88zM459 230h82v1h-82zM464 231h83v1h-83zM465 232h91v1h-91zM466 233h97v1h-97zM467 234h102v1h-102zM467 235h107v1h-107zM467 236h122v1h-122zM467 237h79v1h-79zM552 237h44v1h-44zM467 238h76v1h-76zM555 238h8v1h-8zM565 238h41v1h-41zM472 239h71v1h-71zM555 239h5v1h-5zM569 239h49v1h-49zM487 240h48v1h-48zM555 240h3v1h-3zM569 240h60v1h-60zM490 241h22v1h-22zM520 241h10v1h-10zM569 241h72v1h-72zM492 242h20v1h-20zM521 242h9v1h-9zM569 242h72v1h-72zM494 243h18v1h-18zM521 243h9v1h-9zM572 243h69v1h-69zM495 244h18v1h-18zM520 244h10v1h-10zM581 244h60v1h-60zM496 245h17v1h-17zM519 245h11v1h-11zM591 245h50v1h-50zM496 246h18v1h-18zM519 246h11v1h-11zM600 246h41v1h-41zM497 247h33v1h-33zM535 247h6v1h-6zM620 247h21v1h-21zM497 248h33v1h-33zM535 248h6v1h-6zM633 248h8v1h-8zM498 249h32v1h-32zM535 249h7v1h-7zM498 250h31v1h-31zM535 250h6v1h-6zM498 251h30v1h-30zM537 251h2v1h-2zM497 252h29v1h-29zM497 253h28v1h-28zM497 254h28v1h-28zM496 255h29v1h-29zM496 256h28v1h-28zM497 257h27v1h-27zM499 258h24v1h-24zM501 259h22v1h-22zM503 260h21v1h-21zM504 261h22v1h-22zM505 262h22v1h-22zM505 263h23v1h-23zM534 263h6v1h-6zM506 264h22v1h-22zM533 264h7v1h-7zM506 265h23v1h-23zM533 265h7v1h-7zM507 266h22v1h-22zM533 266h7v1h-7zM507 267h23v1h-23zM533 267h7v1h-7zM508 268h22v1h-22zM536 268h4v1h-4zM508 269h22v1h-22zM509 270h21v1h-21zM511 271h19v1h-19zM512 272h18v1h-18zM514 273h16v1h-16zM518 274h12v1h-12zM522 275h8v1h-8zM524 276h6v1h-6zM524 277h5v1h-5zM525 278h4v1h-4zM525 279h4v1h-4zM526 280h3v1h-3zM526 281h3v1h-3zM527 282h1v1h-1zM527 283h1v1h-1z"/><path fill="#d8ff00" d="M405 220h23v1h-23zM417 221h26v1h-26zM442 222h17v1h-17zM381 223h5v1h-5zM453 223h11v1h-11zM399 224h38v1h-38zM454 224h11v1h-11zM421 225h22v1h-22zM454 225h11v1h-11zM437 226h8v1h-8zM453 226h12v1h-12zM443 227h21v1h-21zM546 237h6v1h-6zM543 238h12v1h-12zM563 238h2v1h-2zM543 239h12v1h-12zM560 239h9v1h-9zM535 240h20v1h-20zM558 240h11v1h-11zM512 241h8v1h-8zM530 241h39v1h-39zM512 242h9v1h-9zM530 242h39v1h-39zM512 243h9v1h-9zM530 243h42v1h-42zM513 244h7v1h-7zM530 244h51v1h-51zM513 245h6v1h-6zM530 245h61v1h-61zM514 246h5v1h-5zM530 246h70v1h-70zM530 247h5v1h-5zM541 247h79v1h-79zM530 248h5v1h-5zM541 248h92v1h-92zM530 249h5v1h-5zM542 249h35v1h-35zM583 249h58v1h-58zM529 250h6v1h-6zM541 250h31v1h-31zM589 250h52v1h-52zM528 251h9v1h-9zM539 251h32v1h-32zM589 251h52v1h-52zM526 252h45v1h-45zM589 252h52v1h-52zM525 253h45v1h-45zM618 253h23v1h-23zM525 254h24v1h-24zM561 254h9v1h-9zM621 254h20v1h-20zM525 255h18v1h-18zM624 255h17v1h-17zM524 256h19v1h-19zM625 256h16v1h-16zM524 257h19v1h-19zM627 257h14v1h-14zM523 258h20v1h-20zM628 258h13v1h-13zM523 259h22v1h-22zM629 259h12v1h-12zM524 260h21v1h-21zM636 260h5v1h-5zM526 261h19v1h-19zM527 262h18v1h-18zM528 263h6v1h-6zM540 263h5v1h-5zM528 264h5v1h-5zM540 264h5v1h-5zM554 264h4v1h-4zM583 264h6v1h-6zM621 264h6v1h-6zM529 265h4v1h-4zM540 265h5v1h-5zM553 265h6v1h-6zM582 265h8v1h-8zM620 265h8v1h-8zM529 266h4v1h-4zM540 266h5v1h-5zM552 266h7v1h-7zM582 266h8v1h-8zM619 266h10v1h-10zM530 267h3v1h-3zM540 267h5v1h-5zM552 267h7v1h-7zM582 267h8v1h-8zM619 267h10v1h-10zM530 268h6v1h-6zM540 268h5v1h-5zM552 268h7v1h-7zM582 268h8v1h-8zM619 268h10v1h-10zM530 269h15v1h-15zM552 269h7v1h-7zM582 269h8v1h-8zM619 269h10v1h-10zM530 270h15v1h-15zM553 270h6v1h-6zM583 270h6v1h-6zM620 270h8v1h-8zM530 271h15v1h-15zM553 271h5v1h-5zM621 271h6v1h-6zM530 272h15v1h-15zM555 272h2v1h-2zM572 272h2v1h-2zM623 272h3v1h-3zM530 273h13v1h-13zM571 273h4v1h-4zM530 274h13v1h-13zM570 274h6v1h-6zM530 275h13v1h-13zM570 275h6v1h-6zM530 276h13v1h-13zM570 276h6v1h-6zM529 277h14v1h-14zM570 277h6v1h-6zM529 278h14v1h-14zM571 278h4v1h-4zM529 279h14v1h-14zM550 279h5v1h-5zM572 279h2v1h-2zM529 280h27v1h-27zM529 281h28v1h-28zM528 282h30v1h-30zM528 283h31v1h-31z"/><path fill="#ffd000" d="M381 220h24v1h-24zM406 221h11v1h-11zM409 222h33v1h-33zM386 223h67v1h-67zM437 224h17v1h-17zM443 225h11v1h-11zM445 226h8v1h-8zM577 249h6v1h-6zM572 250h17v1h-17zM571 251h18v1h-18zM571 252h18v1h-18zM570 253h48v1h-48zM549 254h12v1h-12zM570 254h51v1h-51zM543 255h81v1h-81zM543 256h82v1h-82zM543 257h84v1h-84zM543 258h85v1h-85zM545 259h84v1h-84zM545 260h91v1h-91zM545 261h96v1h-96zM545 262h96v1h-96zM545 263h96v1h-96zM545 264h9v1h-9zM558 264h25v1h-25zM589 264h6v1h-6zM598 264h23v1h-23zM627 264h14v1h-14zM545 265h8v1h-8zM559 265h23v1h-23zM590 265h5v1h-5zM598 265h22v1h-22zM628 265h13v1h-13zM545 266h7v1h-7zM559 266h23v1h-23zM590 266h29v1h-29zM629 266h12v1h-12zM545 267h7v1h-7zM559 267h23v1h-23zM590 267h29v1h-29zM629 267h12v1h-12zM545 268h7v1h-7zM559 268h23v1h-23zM590 268h19v1h-19zM613 268h6v1h-6zM629 268h12v1h-12zM545 269h7v1h-7zM559 269h23v1h-23zM590 269h16v1h-16zM615 269h4v1h-4zM629 269h12v1h-12zM545 270h8v1h-8zM559 270h24v1h-24zM589 270h2v1h-2zM597 270h9v1h-9zM616 270h4v1h-4zM628 270h13v1h-13zM545 271h8v1h-8zM558 271h33v1h-33zM598 271h8v1h-8zM615 271h6v1h-6zM627 271h14v1h-14zM545 272h10v1h-10zM557 272h15v1h-15zM574 272h17v1h-17zM599 272h10v1h-10zM613 272h10v1h-10zM626 272h15v1h-15zM543 273h28v1h-28zM575 273h16v1h-16zM601 273h40v1h-40zM543 274h27v1h-27zM576 274h15v1h-15zM602 274h39v1h-39zM543 275h27v1h-27zM576 275h15v1h-15zM602 275h39v1h-39zM543 276h27v1h-27zM576 276h15v1h-15zM602 276h39v1h-39zM543 277h27v1h-27zM576 277h16v1h-16zM602 277h39v1h-39zM543 278h28v1h-28zM575 278h17v1h-17zM602 278h39v1h-39zM543 279h7v1h-7zM555 279h17v1h-17zM574 279h19v1h-19zM602 279h39v1h-39zM556 280h38v1h-38zM601 280h40v1h-40zM557 281h84v1h-84zM558 282h83v1h-83zM559 283h82v1h-82z"/><path fill="#ff8c00" d="M397 221h9v1h-9zM398 222h11v1h-11zM595 264h3v1h-3zM595 265h3v1h-3zM609 268h4v1h-4zM606 269h9v1h-9zM591 270h6v1h-6zM606 270h10v1h-10zM591 271h7v1h-7zM606 271h9v1h-9zM591 272h8v1h-8zM609 272h4v1h-4zM591 273h10v1h-10zM591 274h11v1h-11zM591 275h11v1h-11zM591 276h11v1h-11zM592 277h10v1h-10zM592 278h10v1h-10zM593 279h9v1h-9zM594 280h7v1h-7z"/><path fill="#ff3c00" d="M381 221h16v1h-16zM381 222h17v1h-17z"/><path d="M382.3 183.5v4M382.3 284.5v-4M393.3 183.5v4M393.3 284.5v-4M404.2 183.5v4M404.2 284.5v-4M415.2 183.5v7M415.2 284.5v-7M426.2 183.5v4M426.2 284.5v-4M437.1 183.5v4M437.1 284.5v-4M448.1 183.5v4M448.1 284.5v-4M459.1 183.5v7M459.1 284.5v-7M470.0 183.5v4M470.0 284.5v-4M481.0 183.5v4M481.0 284.5v-4M492.0 183.5v4M492.0 284.5v-4M502.9 183.5v7M502.9 284.5v-7M513.9 183.5v4M513.9 284.5v-4M524.9 183.5v4M524.9 284.5v-4M535.8 183.5v4M535.8 284.5v-4M546.8 183.5v7M546.8 284.5v-7M557.7 183.5v4M557.7 284.5v-4M568.7 183.5v4M568.7 284.5v-4M579.7 183.5v4M579.7 284.5v-4M590.6 183.5v7M590.6 284.5v-7M601.6 183.5v4M601.6 284.5v-4M612.6 183.5v4M612.6 284.5v-4M623.5 183.5v4M623.5 284.5v-4M634.5 183.5v7M634.5 284.5v-7M380.5 265.4h7M641.5 265.4h-7M380.5 243.5h7M641.5 243.5h-7M380.5 221.5h7M641.5 221.5h-7M380.5 199.6h7M641.5 199.6h-7" stroke="#000" stroke-width="1.05" fill="none"/><rect x="380.5" y="183.5" width="261" height="101" fill="none" stroke="#000" stroke-width="1"/><text x="415.2" y="296.5" text-anchor="middle" class="t">0.2</text><text x="459.1" y="296.5" text-anchor="middle" class="t">0.4</text><text x="502.9" y="296.5" text-anchor="middle" class="t">0.6</text><text x="546.8" y="296.5" text-anchor="middle" class="t">0.8</text><text x="590.6" y="296.5" text-anchor="middle" class="t">1</text><text x="634.5" y="296.5" text-anchor="middle" class="t">1.2</text><text x="378.5" y="269.0" text-anchor="end" class="t">0.1</text><text x="378.5" y="247.1" text-anchor="end" class="t">0.2</text><text x="378.5" y="225.1" text-anchor="end" class="t">0.3</text><text x="378.5" y="203.2" text-anchor="end" class="t">0.4</text><rect x="647.0" y="182.40" width="14.2" height="5.10" fill="#ff0000"/><rect x="647.0" y="187.50" width="14.2" height="9.11" fill="#ff3c00"/><rect x="647.0" y="196.61" width="14.2" height="9.11" fill="#ff8c00"/><rect x="647.0" y="205.72" width="14.2" height="9.11" fill="#ffd000"/><rect x="647.0" y="214.83" width="14.2" height="9.11" fill="#d8ff00"/><rect x="647.0" y="223.94" width="14.2" height="9.11" fill="#38f800"/><rect x="647.0" y="233.05" width="14.2" height="9.11" fill="#00f040"/><rect x="647.0" y="242.16" width="14.2" height="9.11" fill="#00ffd8"/><rect x="647.0" y="251.27" width="14.2" height="9.11" fill="#00d8ff"/><rect x="647.0" y="260.38" width="14.2" height="9.11" fill="#008cff"/><rect x="647.0" y="269.49" width="14.2" height="9.11" fill="#0038ff"/><rect x="647.0" y="278.60" width="14.2" height="5.10" fill="#0000f0"/><text x="668.6" y="192.4" class="t">0.5</text><text x="668.6" y="210.7" class="t">0.4</text><text x="668.6" y="229.0" class="t">0.3</text><text x="668.6" y="247.4" class="t">0.2</text><text x="668.6" y="265.7" class="t">0.1</text><text x="668.6" y="284.0" class="t">0</text><text class="ct"><tspan x="579.4" y="171.8">(</tspan><tspan x="582.4" y="171.8">v</tspan><tspan x="591.0" y="176.3" class="sub">PIV</tspan><tspan x="607.0" y="171.8">-</tspan><tspan x="613.6" y="171.8">v</tspan><tspan x="622.4" y="176.3" class="sub">REF</tspan><tspan x="638.4" y="171.8">)</tspan><tspan x="642.5" y="176.3" class="sub">RMS</tspan><tspan x="663.5" y="171.8" letter-spacing="0.6">[vx]</tspan></text><text transform="translate(359.8 233.9) rotate(-90)" text-anchor="middle" class="ax">y/D</text><path fill="#0038ff" d="M31 328h260v1h-260zM31 329h260v1h-260zM31 330h260v1h-260zM31 331h260v1h-260zM31 332h260v1h-260zM31 333h260v1h-260zM31 334h260v1h-260zM31 335h260v1h-260zM31 336h260v1h-260zM31 337h260v1h-260zM31 338h260v1h-260zM31 339h260v1h-260zM31 340h260v1h-260zM31 341h260v1h-260zM31 342h260v1h-260zM31 343h260v1h-260zM31 344h260v1h-260zM31 345h260v1h-260zM31 346h260v1h-260zM31 347h260v1h-260zM31 348h260v1h-260zM31 349h260v1h-260zM31 350h260v1h-260zM31 351h260v1h-260zM31 352h116v1h-116zM179 352h112v1h-112zM31 353h93v1h-93zM222 353h69v1h-69zM31 354h63v1h-63zM242 354h49v1h-49zM31 355h59v1h-59zM257 355h34v1h-34zM31 356h51v1h-51zM270 356h21v1h-21zM31 357h47v1h-47zM31 358h36v1h-36zM31 359h25v1h-25zM31 360h12v1h-12zM31 361h7v1h-7z"/><path fill="#008cff" d="M147 352h32v1h-32zM124 353h98v1h-98zM94 354h148v1h-148zM90 355h167v1h-167zM82 356h188v1h-188zM78 357h213v1h-213zM67 358h26v1h-26zM173 358h118v1h-118zM56 359h36v1h-36zM193 359h98v1h-98zM43 360h33v1h-33zM216 360h75v1h-75zM38 361h26v1h-26zM234 361h57v1h-57zM31 362h12v1h-12zM235 362h56v1h-56zM235 363h56v1h-56zM241 364h50v1h-50zM246 365h45v1h-45zM256 366h35v1h-35zM258 367h33v1h-33zM268 368h23v1h-23zM283 369h8v1h-8zM60 379h2v1h-2zM33 381h1v1h-1zM33 382h2v1h-2zM33 383h2v1h-2zM33 384h2v1h-2zM33 385h2v1h-2zM58 385h4v1h-4zM44 386h2v1h-2zM57 386h7v1h-7zM44 387h3v1h-3zM57 387h7v1h-7zM43 388h5v1h-5zM56 388h8v1h-8zM43 389h6v1h-6zM55 389h9v1h-9zM41 390h8v1h-8zM55 390h9v1h-9zM41 391h8v1h-8zM54 391h9v1h-9zM41 392h8v1h-8zM53 392h9v1h-9zM41 393h7v1h-7zM53 393h9v1h-9zM41 394h6v1h-6zM52 394h9v1h-9zM41 395h5v1h-5zM52 395h9v1h-9zM41 396h4v1h-4zM52 396h9v1h-9zM43 397h1v1h-1zM52 397h8v1h-8zM52 398h8v1h-8zM52 399h7v1h-7zM65 399h4v1h-4zM53 400h4v1h-4zM65 400h4v1h-4zM66 401h2v1h-2z"/><path fill="#00d8ff" d="M93 358h80v1h-80zM92 359h101v1h-101zM76 360h17v1h-17zM142 360h74v1h-74zM64 361h21v1h-21zM153 361h81v1h-81zM43 362h17v1h-17zM167 362h68v1h-68zM31 363h7v1h-7zM177 363h58v1h-58zM181 364h60v1h-60zM191 365h55v1h-55zM202 366h54v1h-54zM213 367h45v1h-45zM219 368h49v1h-49zM31 369h5v1h-5zM235 369h48v1h-48zM31 370h11v1h-11zM245 370h46v1h-46zM31 371h17v1h-17zM248 371h43v1h-43zM31 372h22v1h-22zM257 372h34v1h-34zM31 373h27v1h-27zM263 373h28v1h-28zM31 374h32v1h-32zM268 374h23v1h-23zM31 375h39v1h-39zM278 375h13v1h-13zM31 376h42v1h-42zM31 377h45v1h-45zM31 378h48v1h-48zM31 379h29v1h-29zM62 379h20v1h-20zM31 380h54v1h-54zM31 381h2v1h-2zM34 381h54v1h-54zM31 382h2v1h-2zM35 382h55v1h-55zM31 383h2v1h-2zM35 383h56v1h-56zM31 384h2v1h-2zM35 384h58v1h-58zM31 385h2v1h-2zM35 385h23v1h-23zM62 385h32v1h-32zM31 386h13v1h-13zM46 386h11v1h-11zM64 386h32v1h-32zM31 387h13v1h-13zM47 387h10v1h-10zM64 387h33v1h-33zM31 388h12v1h-12zM48 388h8v1h-8zM64 388h33v1h-33zM31 389h12v1h-12zM49 389h6v1h-6zM64 389h33v1h-33zM31 390h10v1h-10zM49 390h6v1h-6zM64 390h33v1h-33zM31 391h10v1h-10zM49 391h5v1h-5zM63 391h35v1h-35zM31 392h10v1h-10zM49 392h4v1h-4zM62 392h36v1h-36zM31 393h10v1h-10zM48 393h5v1h-5zM62 393h36v1h-36zM31 394h10v1h-10zM47 394h5v1h-5zM61 394h36v1h-36zM31 395h10v1h-10zM46 395h6v1h-6zM61 395h35v1h-35zM31 396h10v1h-10zM45 396h7v1h-7zM61 396h35v1h-35zM31 397h12v1h-12zM44 397h8v1h-8zM60 397h35v1h-35zM31 398h21v1h-21zM60 398h34v1h-34zM31 399h21v1h-21zM59 399h6v1h-6zM69 399h24v1h-24zM31 400h22v1h-22zM57 400h8v1h-8zM69 400h24v1h-24zM31 401h35v1h-35zM68 401h25v1h-25zM31 402h63v1h-63zM31 403h63v1h-63zM31 404h64v1h-64zM31 405h64v1h-64zM106 405h1v1h-1zM31 406h65v1h-65zM105 406h3v1h-3zM31 407h65v1h-65zM105 407h3v1h-3zM31 408h66v1h-66zM105 408h3v1h-3zM31 409h67v1h-67zM105 409h3v1h-3zM31 410h68v1h-68zM105 410h3v1h-3zM31 411h69v1h-69zM105 411h3v1h-3zM31 412h68v1h-68zM105 412h3v1h-3zM31 413h66v1h-66zM105 413h2v1h-2zM31 414h61v1h-61zM31 415h50v1h-50zM31 416h48v1h-48zM31 417h48v1h-48zM31 418h48v1h-48zM31 419h48v1h-48zM31 420h48v1h-48zM31 421h20v1h-20zM74 421h5v1h-5zM31 422h10v1h-10zM31 423h4v1h-4z"/><path fill="#00ffd8" d="M93 360h49v1h-49zM85 361h12v1h-12zM133 361h20v1h-20zM60 362h10v1h-10zM149 362h18v1h-18zM38 363h7v1h-7zM163 363h14v1h-14zM169 364h12v1h-12zM180 365h11v1h-11zM181 366h21v1h-21zM191 367h22v1h-22zM31 368h3v1h-3zM195 368h24v1h-24zM36 369h3v1h-3zM202 369h33v1h-33zM42 370h4v1h-4zM212 370h33v1h-33zM48 371h5v1h-5zM222 371h26v1h-26zM53 372h6v1h-6zM231 372h26v1h-26zM58 373h7v1h-7zM235 373h28v1h-28zM63 374h7v1h-7zM245 374h23v1h-23zM70 375h6v1h-6zM248 375h30v1h-30zM73 376h7v1h-7zM258 376h33v1h-33zM76 377h8v1h-8zM268 377h23v1h-23zM79 378h7v1h-7zM272 378h19v1h-19zM82 379h24v1h-24zM281 379h10v1h-10zM85 380h22v1h-22zM88 381h21v1h-21zM90 382h20v1h-20zM91 383h21v1h-21zM93 384h20v1h-20zM94 385h20v1h-20zM96 386h20v1h-20zM97 387h20v1h-20zM97 388h21v1h-21zM97 389h22v1h-22zM97 390h23v1h-23zM98 391h23v1h-23zM98 392h24v1h-24zM98 393h25v1h-25zM97 394h27v1h-27zM96 395h28v1h-28zM96 396h29v1h-29zM95 397h30v1h-30zM94 398h32v1h-32zM93 399h35v1h-35zM93 400h37v1h-37zM93 401h40v1h-40zM94 402h41v1h-41zM94 403h44v1h-44zM95 404h44v1h-44zM95 405h11v1h-11zM107 405h32v1h-32zM96 406h9v1h-9zM108 406h32v1h-32zM96 407h9v1h-9zM108 407h32v1h-32zM97 408h8v1h-8zM108 408h27v1h-27zM98 409h7v1h-7zM108 409h21v1h-21zM99 410h6v1h-6zM108 410h21v1h-21zM100 411h5v1h-5zM108 411h21v1h-21zM99 412h6v1h-6zM108 412h22v1h-22zM97 413h8v1h-8zM107 413h23v1h-23zM92 414h39v1h-39zM81 415h53v1h-53zM79 416h58v1h-58zM79 417h61v1h-61zM79 418h64v1h-64zM79 419h64v1h-64zM79 420h65v1h-65zM51 421h23v1h-23zM79 421h65v1h-65zM41 422h102v1h-102zM35 423h65v1h-65zM107 423h35v1h-35zM31 424h67v1h-67zM111 424h29v1h-29zM31 425h67v1h-67zM112 425h27v1h-27zM31 426h67v1h-67zM113 426h24v1h-24zM31 427h67v1h-67zM114 427h21v1h-21z"/><path fill="#00f040" d="M97 361h36v1h-36zM70 362h79v1h-79zM45 363h11v1h-11zM145 363h18v1h-18zM31 364h4v1h-4zM153 364h16v1h-16zM164 365h16v1h-16zM169 366h12v1h-12zM170 367h21v1h-21zM34 368h2v1h-2zM180 368h15v1h-15zM39 369h2v1h-2zM180 369h22v1h-22zM46 370h3v1h-3zM181 370h31v1h-31zM53 371h2v1h-2zM191 371h31v1h-31zM59 372h3v1h-3zM197 372h34v1h-34zM65 373h4v1h-4zM202 373h33v1h-33zM70 374h8v1h-8zM213 374h32v1h-32zM76 375h7v1h-7zM224 375h24v1h-24zM80 376h5v1h-5zM235 376h23v1h-23zM84 377h16v1h-16zM246 377h22v1h-22zM86 378h32v1h-32zM252 378h20v1h-20zM106 379h20v1h-20zM257 379h24v1h-24zM107 380h21v1h-21zM268 380h23v1h-23zM109 381h22v1h-22zM268 381h23v1h-23zM110 382h24v1h-24zM279 382h12v1h-12zM112 383h24v1h-24zM289 383h2v1h-2zM113 384h25v1h-25zM114 385h27v1h-27zM116 386h27v1h-27zM117 387h28v1h-28zM118 388h29v1h-29zM119 389h29v1h-29zM120 390h29v1h-29zM121 391h29v1h-29zM122 392h29v1h-29zM123 393h30v1h-30zM124 394h30v1h-30zM124 395h31v1h-31zM125 396h31v1h-31zM125 397h32v1h-32zM126 398h32v1h-32zM128 399h31v1h-31zM130 400h30v1h-30zM133 401h28v1h-28zM135 402h28v1h-28zM138 403h26v1h-26zM139 404h26v1h-26zM139 405h27v1h-27zM140 406h27v1h-27zM140 407h28v1h-28zM135 408h34v1h-34zM129 409h41v1h-41zM129 410h42v1h-42zM129 411h42v1h-42zM130 412h42v1h-42zM130 413h43v1h-43zM131 414h43v1h-43zM134 415h41v1h-41zM137 416h39v1h-39zM140 417h36v1h-36zM143 418h34v1h-34zM143 419h34v1h-34zM144 420h34v1h-34zM144 421h34v1h-34zM143 422h36v1h-36zM100 423h7v1h-7zM142 423h37v1h-37zM98 424h13v1h-13zM140 424h40v1h-40zM98 425h14v1h-14zM139 425h41v1h-41zM98 426h15v1h-15zM137 426h44v1h-44zM98 427h16v1h-16zM135 427h46v1h-46z"/><path fill="#38f800" d="M56 363h7v1h-7zM92 363h53v1h-53zM35 364h3v1h-3zM135 364h18v1h-18zM147 365h17v1h-17zM153 366h16v1h-16zM31 367h3v1h-3zM158 367h12v1h-12zM36 368h2v1h-2zM168 368h12v1h-12zM41 369h4v1h-4zM169 369h11v1h-11zM49 370h3v1h-3zM170 370h11v1h-11zM55 371h4v1h-4zM179 371h12v1h-12zM62 372h5v1h-5zM180 372h17v1h-17zM69 373h5v1h-5zM180 373h22v1h-22zM78 374h4v1h-4zM187 374h26v1h-26zM83 375h10v1h-10zM191 375h33v1h-33zM85 376h17v1h-17zM197 376h38v1h-38zM100 377h7v1h-7zM208 377h38v1h-38zM217 378h35v1h-35zM126 379h13v1h-13zM227 379h30v1h-30zM128 380h12v1h-12zM235 380h33v1h-33zM131 381h10v1h-10zM246 381h22v1h-22zM134 382h8v1h-8zM246 382h33v1h-33zM136 383h8v1h-8zM257 383h32v1h-32zM138 384h7v1h-7zM257 384h34v1h-34zM141 385h5v1h-5zM268 385h23v1h-23zM143 386h4v1h-4zM268 386h23v1h-23zM145 387h3v1h-3zM279 387h12v1h-12zM147 388h3v1h-3zM279 388h12v1h-12zM148 389h3v1h-3zM149 390h4v1h-4zM150 391h6v1h-6zM151 392h6v1h-6zM153 393h4v1h-4zM154 394h3v1h-3zM155 395h2v1h-2zM167 395h2v1h-2zM156 396h2v1h-2zM167 396h3v1h-3zM157 397h1v1h-1zM160 400h2v1h-2zM161 401h5v1h-5zM163 402h7v1h-7zM164 403h8v1h-8zM165 404h9v1h-9zM166 405h9v1h-9zM167 406h10v1h-10zM168 407h10v1h-10zM169 408h10v1h-10zM170 409h9v1h-9zM171 410h8v1h-8zM171 411h9v1h-9zM172 412h8v1h-8zM185 412h5v1h-5zM173 413h7v1h-7zM186 413h3v1h-3zM174 414h6v1h-6zM175 415h5v1h-5zM176 416h4v1h-4zM176 417h6v1h-6zM177 418h8v1h-8zM177 419h10v1h-10zM178 420h10v1h-10zM178 421h12v1h-12zM179 422h12v1h-12zM179 423h13v1h-13zM180 424h12v1h-12zM180 425h13v1h-13zM181 426h12v1h-12zM181 427h12v1h-12z"/><path fill="#d8ff00" d="M63 363h7v1h-7zM82 363h10v1h-10zM38 364h4v1h-4zM95 364h10v1h-10zM114 364h21v1h-21zM128 365h19v1h-19zM139 366h14v1h-14zM34 367h2v1h-2zM147 367h11v1h-11zM38 368h3v1h-3zM147 368h21v1h-21zM45 369h4v1h-4zM147 369h22v1h-22zM52 370h4v1h-4zM147 370h23v1h-23zM59 371h4v1h-4zM148 371h31v1h-31zM67 372h5v1h-5zM156 372h24v1h-24zM74 373h6v1h-6zM158 373h22v1h-22zM82 374h4v1h-4zM158 374h29v1h-29zM93 375h11v1h-11zM148 375h43v1h-43zM102 376h12v1h-12zM158 376h39v1h-39zM107 377h31v1h-31zM158 377h7v1h-7zM180 377h28v1h-28zM118 378h29v1h-29zM158 378h3v1h-3zM181 378h36v1h-36zM139 379h22v1h-22zM162 379h12v1h-12zM184 379h43v1h-43zM140 380h21v1h-21zM182 380h2v1h-2zM185 380h50v1h-50zM141 381h20v1h-20zM188 381h58v1h-58zM142 382h19v1h-19zM193 382h53v1h-53zM144 383h18v1h-18zM196 383h61v1h-61zM145 384h18v1h-18zM196 384h18v1h-18zM227 384h30v1h-30zM146 385h20v1h-20zM196 385h13v1h-13zM236 385h32v1h-32zM147 386h21v1h-21zM196 386h9v1h-9zM242 386h26v1h-26zM148 387h23v1h-23zM196 387h7v1h-7zM247 387h32v1h-32zM150 388h25v1h-25zM196 388h7v1h-7zM250 388h29v1h-29zM151 389h27v1h-27zM196 389h8v1h-8zM254 389h37v1h-37zM153 390h32v1h-32zM193 390h11v1h-11zM258 390h33v1h-33zM156 391h20v1h-20zM196 391h9v1h-9zM262 391h29v1h-29zM157 392h19v1h-19zM200 392h6v1h-6zM267 392h24v1h-24zM157 393h19v1h-19zM202 393h5v1h-5zM272 393h19v1h-19zM157 394h19v1h-19zM203 394h6v1h-6zM280 394h11v1h-11zM157 395h10v1h-10zM169 395h7v1h-7zM203 395h8v1h-8zM158 396h9v1h-9zM170 396h7v1h-7zM204 396h9v1h-9zM272 396h19v1h-19zM158 397h20v1h-20zM204 397h12v1h-12zM268 397h23v1h-23zM158 398h20v1h-20zM205 398h13v1h-13zM250 398h6v1h-6zM268 398h23v1h-23zM159 399h20v1h-20zM205 399h14v1h-14zM222 399h4v1h-4zM249 399h9v1h-9zM268 399h23v1h-23zM162 400h18v1h-18zM204 400h14v1h-14zM221 400h6v1h-6zM248 400h10v1h-10zM269 400h22v1h-22zM166 401h14v1h-14zM204 401h13v1h-13zM220 401h7v1h-7zM248 401h10v1h-10zM269 401h22v1h-22zM170 402h12v1h-12zM203 402h13v1h-13zM220 402h8v1h-8zM249 402h9v1h-9zM270 402h21v1h-21zM172 403h11v1h-11zM203 403h12v1h-12zM220 403h8v1h-8zM249 403h8v1h-8zM271 403h20v1h-20zM174 404h10v1h-10zM202 404h12v1h-12zM220 404h8v1h-8zM230 404h6v1h-6zM251 404h4v1h-4zM273 404h18v1h-18zM175 405h10v1h-10zM201 405h12v1h-12zM220 405h7v1h-7zM229 405h8v1h-8zM274 405h17v1h-17zM177 406h11v1h-11zM198 406h14v1h-14zM220 406h7v1h-7zM229 406h8v1h-8zM178 407h33v1h-33zM221 407h5v1h-5zM229 407h8v1h-8zM179 408h31v1h-31zM230 408h6v1h-6zM179 409h30v1h-30zM232 409h2v1h-2zM179 410h29v1h-29zM180 411h28v1h-28zM180 412h5v1h-5zM190 412h19v1h-19zM180 413h6v1h-6zM189 413h20v1h-20zM180 414h29v1h-29zM216 414h13v1h-13zM231 414h3v1h-3zM272 414h19v1h-19zM180 415h30v1h-30zM215 415h20v1h-20zM271 415h20v1h-20zM180 416h30v1h-30zM215 416h21v1h-21zM271 416h20v1h-20zM182 417h29v1h-29zM215 417h22v1h-22zM271 417h20v1h-20zM185 418h28v1h-28zM215 418h23v1h-23zM270 418h21v1h-21zM187 419h51v1h-51zM270 419h21v1h-21zM188 420h51v1h-51zM247 420h6v1h-6zM270 420h21v1h-21zM190 421h50v1h-50zM246 421h9v1h-9zM270 421h21v1h-21zM191 422h49v1h-49zM245 422h11v1h-11zM271 422h20v1h-20zM192 423h48v1h-48zM244 423h12v1h-12zM271 423h20v1h-20zM192 424h48v1h-48zM244 424h12v1h-12zM271 424h20v1h-20zM193 425h46v1h-46zM244 425h12v1h-12zM272 425h19v1h-19zM193 426h46v1h-46zM245 426h10v1h-10zM272 426h19v1h-19zM193 427h46v1h-46zM246 427h8v1h-8zM272 427h19v1h-19z"/><path fill="#ffd000" d="M70 363h12v1h-12zM42 364h9v1h-9zM89 364h6v1h-6zM105 364h9v1h-9zM31 365h2v1h-2zM98 365h3v1h-3zM115 365h13v1h-13zM31 366h2v1h-2zM124 366h15v1h-15zM36 367h2v1h-2zM126 367h21v1h-21zM41 368h2v1h-2zM128 368h19v1h-19zM49 369h5v1h-5zM128 369h19v1h-19zM56 370h6v1h-6zM128 370h19v1h-19zM63 371h7v1h-7zM126 371h22v1h-22zM72 372h8v1h-8zM125 372h31v1h-31zM80 373h9v1h-9zM125 373h33v1h-33zM86 374h19v1h-19zM114 374h44v1h-44zM104 375h44v1h-44zM114 376h44v1h-44zM138 377h20v1h-20zM165 377h15v1h-15zM147 378h11v1h-11zM161 378h20v1h-20zM161 379h1v1h-1zM174 379h10v1h-10zM161 380h21v1h-21zM184 380h1v1h-1zM161 381h27v1h-27zM161 382h32v1h-32zM162 383h34v1h-34zM163 384h33v1h-33zM214 384h13v1h-13zM166 385h30v1h-30zM209 385h27v1h-27zM168 386h28v1h-28zM205 386h37v1h-37zM171 387h25v1h-25zM203 387h44v1h-44zM175 388h21v1h-21zM203 388h47v1h-47zM178 389h18v1h-18zM204 389h50v1h-50zM185 390h8v1h-8zM204 390h54v1h-54zM176 391h20v1h-20zM205 391h57v1h-57zM176 392h24v1h-24zM206 392h61v1h-61zM176 393h26v1h-26zM207 393h65v1h-65zM176 394h27v1h-27zM209 394h71v1h-71zM176 395h27v1h-27zM211 395h11v1h-11zM225 395h66v1h-66zM177 396h27v1h-27zM213 396h8v1h-8zM226 396h14v1h-14zM243 396h29v1h-29zM178 397h26v1h-26zM216 397h6v1h-6zM225 397h15v1h-15zM244 397h24v1h-24zM178 398h27v1h-27zM218 398h32v1h-32zM256 398h12v1h-12zM179 399h26v1h-26zM219 399h3v1h-3zM226 399h23v1h-23zM258 399h10v1h-10zM180 400h24v1h-24zM218 400h3v1h-3zM227 400h21v1h-21zM258 400h11v1h-11zM180 401h10v1h-10zM193 401h11v1h-11zM217 401h3v1h-3zM227 401h21v1h-21zM258 401h11v1h-11zM182 402h8v1h-8zM194 402h9v1h-9zM216 402h4v1h-4zM228 402h21v1h-21zM258 402h12v1h-12zM183 403h7v1h-7zM194 403h9v1h-9zM215 403h5v1h-5zM228 403h21v1h-21zM257 403h14v1h-14zM184 404h18v1h-18zM214 404h6v1h-6zM228 404h2v1h-2zM236 404h15v1h-15zM255 404h18v1h-18zM185 405h16v1h-16zM213 405h7v1h-7zM227 405h2v1h-2zM237 405h37v1h-37zM188 406h10v1h-10zM212 406h8v1h-8zM227 406h2v1h-2zM237 406h54v1h-54zM211 407h10v1h-10zM226 407h3v1h-3zM237 407h16v1h-16zM257 407h34v1h-34zM210 408h20v1h-20zM236 408h16v1h-16zM258 408h33v1h-33zM209 409h23v1h-23zM234 409h18v1h-18zM258 409h33v1h-33zM208 410h45v1h-45zM257 410h34v1h-34zM208 411h38v1h-38zM249 411h10v1h-10zM263 411h28v1h-28zM209 412h36v1h-36zM250 412h9v1h-9zM263 412h28v1h-28zM209 413h37v1h-37zM249 413h42v1h-42zM209 414h7v1h-7zM234 414h38v1h-38zM210 415h5v1h-5zM235 415h36v1h-36zM210 416h5v1h-5zM236 416h35v1h-35zM211 417h4v1h-4zM237 417h34v1h-34zM213 418h2v1h-2zM238 418h32v1h-32zM238 419h32v1h-32zM239 420h8v1h-8zM253 420h17v1h-17zM240 421h6v1h-6zM255 421h15v1h-15zM240 422h5v1h-5zM256 422h15v1h-15zM240 423h4v1h-4zM256 423h15v1h-15zM240 424h4v1h-4zM256 424h15v1h-15zM239 425h5v1h-5zM256 425h16v1h-16zM239 426h6v1h-6zM255 426h17v1h-17zM239 427h7v1h-7zM254 427h18v1h-18z"/><path fill="#ff8c00" d="M51 364h9v1h-9zM84 364h5v1h-5zM33 365h5v1h-5zM93 365h5v1h-5zM101 365h14v1h-14zM33 366h4v1h-4zM116 366h8v1h-8zM38 367h2v1h-2zM117 367h9v1h-9zM43 368h5v1h-5zM123 368h5v1h-5zM54 369h4v1h-4zM123 369h5v1h-5zM62 370h8v1h-8zM123 370h5v1h-5zM70 371h12v1h-12zM115 371h11v1h-11zM80 372h45v1h-45zM89 373h36v1h-36zM105 374h9v1h-9zM222 395h3v1h-3zM221 396h5v1h-5zM240 396h3v1h-3zM222 397h3v1h-3zM240 397h4v1h-4zM190 401h3v1h-3zM190 402h4v1h-4zM190 403h4v1h-4zM253 407h4v1h-4zM252 408h6v1h-6zM252 409h6v1h-6zM253 410h4v1h-4zM246 411h3v1h-3zM259 411h4v1h-4zM245 412h5v1h-5zM259 412h4v1h-4zM246 413h3v1h-3zM229 414h2v1h-2z"/><path fill="#ff3c00" d="M60 364h10v1h-10zM78 364h6v1h-6zM38 365h4v1h-4zM89 365h4v1h-4zM37 366h4v1h-4zM96 366h5v1h-5zM111 366h5v1h-5zM40 367h3v1h-3zM112 367h5v1h-5zM48 368h4v1h-4zM114 368h9v1h-9zM58 369h5v1h-5zM114 369h9v1h-9zM70 370h25v1h-25zM100 370h23v1h-23zM82 371h33v1h-33z"/><path fill="#ff0000" d="M70 364h8v1h-8zM42 365h47v1h-47zM41 366h55v1h-55zM101 366h10v1h-10zM43 367h69v1h-69zM52 368h62v1h-62zM63 369h51v1h-51zM95 370h5v1h-5z"/><path d="M32.3 327.5v4M32.3 428.5v-4M43.3 327.5v4M43.3 428.5v-4M54.2 327.5v4M54.2 428.5v-4M65.2 327.5v7M65.2 428.5v-7M76.2 327.5v4M76.2 428.5v-4M87.1 327.5v4M87.1 428.5v-4M98.1 327.5v4M98.1 428.5v-4M109.1 327.5v7M109.1 428.5v-7M120.0 327.5v4M120.0 428.5v-4M131.0 327.5v4M131.0 428.5v-4M142.0 327.5v4M142.0 428.5v-4M152.9 327.5v7M152.9 428.5v-7M163.9 327.5v4M163.9 428.5v-4M174.9 327.5v4M174.9 428.5v-4M185.8 327.5v4M185.8 428.5v-4M196.8 327.5v7M196.8 428.5v-7M207.7 327.5v4M207.7 428.5v-4M218.7 327.5v4M218.7 428.5v-4M229.7 327.5v4M229.7 428.5v-4M240.6 327.5v7M240.6 428.5v-7M251.6 327.5v4M251.6 428.5v-4M262.6 327.5v4M262.6 428.5v-4M273.5 327.5v4M273.5 428.5v-4M284.5 327.5v7M284.5 428.5v-7M30.5 409.4h7M291.5 409.4h-7M30.5 387.5h7M291.5 387.5h-7M30.5 365.5h7M291.5 365.5h-7M30.5 343.6h7M291.5 343.6h-7" stroke="#000" stroke-width="1.05" fill="none"/><rect x="30.5" y="327.5" width="261" height="101" fill="none" stroke="#000" stroke-width="1"/><text x="65.2" y="440.5" text-anchor="middle" class="t">0.2</text><text x="109.1" y="440.5" text-anchor="middle" class="t">0.4</text><text x="152.9" y="440.5" text-anchor="middle" class="t">0.6</text><text x="196.8" y="440.5" text-anchor="middle" class="t">0.8</text><text x="240.6" y="440.5" text-anchor="middle" class="t">1</text><text x="284.5" y="440.5" text-anchor="middle" class="t">1.2</text><text x="28.5" y="413.0" text-anchor="end" class="t">0.1</text><text x="28.5" y="391.1" text-anchor="end" class="t">0.2</text><text x="28.5" y="369.1" text-anchor="end" class="t">0.3</text><text x="28.5" y="347.2" text-anchor="end" class="t">0.4</text><rect x="297.0" y="326.40" width="14.2" height="5.10" fill="#ff0000"/><rect x="297.0" y="331.50" width="14.2" height="9.11" fill="#ff3c00"/><rect x="297.0" y="340.61" width="14.2" height="9.11" fill="#ff8c00"/><rect x="297.0" y="349.72" width="14.2" height="9.11" fill="#ffd000"/><rect x="297.0" y="358.83" width="14.2" height="9.11" fill="#d8ff00"/><rect x="297.0" y="367.94" width="14.2" height="9.11" fill="#38f800"/><rect x="297.0" y="377.05" width="14.2" height="9.11" fill="#00f040"/><rect x="297.0" y="386.16" width="14.2" height="9.11" fill="#00ffd8"/><rect x="297.0" y="395.27" width="14.2" height="9.11" fill="#00d8ff"/><rect x="297.0" y="404.38" width="14.2" height="9.11" fill="#008cff"/><rect x="297.0" y="413.49" width="14.2" height="9.11" fill="#0038ff"/><rect x="297.0" y="422.60" width="14.2" height="5.10" fill="#0000f0"/><text x="318.6" y="336.4" class="t">0.5</text><text x="318.6" y="354.7" class="t">0.4</text><text x="318.6" y="373.0" class="t">0.3</text><text x="318.6" y="391.4" class="t">0.2</text><text x="318.6" y="409.7" class="t">0.1</text><text x="318.6" y="428.0" class="t">0</text><text class="ct"><tspan x="223.6" y="315.8">(</tspan><tspan x="227.2" y="315.8">w</tspan><tspan x="237.3" y="320.3" class="sub">PIV</tspan><tspan x="254.3" y="315.8">-</tspan><tspan x="260.2" y="315.8">w</tspan><tspan x="272.0" y="320.3" class="sub">REF</tspan><tspan x="288.2" y="315.8">)</tspan><tspan x="292.4" y="320.3" class="sub">RMS</tspan><tspan x="313.5" y="315.8" letter-spacing="0.6">[vx]</tspan></text><text transform="translate(9.8 377.9) rotate(-90)" text-anchor="middle" class="ax">y/D</text><text x="161.0" y="450.2" text-anchor="middle" class="ax">x/D</text><path fill="#008cff" d="M381 328h260v1h-260zM381 329h260v1h-260zM381 330h260v1h-260zM381 331h260v1h-260zM381 332h260v1h-260zM381 333h260v1h-260zM381 334h260v1h-260zM381 335h260v1h-260zM381 336h260v1h-260zM381 337h260v1h-260zM381 338h260v1h-260zM381 339h260v1h-260zM381 340h260v1h-260zM381 341h260v1h-260zM381 342h260v1h-260zM381 343h260v1h-260zM381 344h260v1h-260zM381 345h260v1h-260zM381 346h260v1h-260zM381 347h260v1h-260zM381 348h260v1h-260zM381 349h260v1h-260zM381 350h260v1h-260zM381 351h260v1h-260zM381 352h260v1h-260zM381 353h260v1h-260zM381 354h260v1h-260zM381 355h98v1h-98zM514 355h127v1h-127zM381 356h65v1h-65zM534 356h107v1h-107zM381 357h61v1h-61zM545 357h96v1h-96zM381 358h49v1h-49zM555 358h86v1h-86zM381 359h36v1h-36zM574 359h67v1h-67zM381 360h23v1h-23zM585 360h56v1h-56zM381 361h7v1h-7zM595 361h46v1h-46zM606 362h35v1h-35zM616 363h25v1h-25z"/><path fill="#00d8ff" d="M479 355h35v1h-35zM446 356h88v1h-88zM442 357h33v1h-33zM488 357h57v1h-57zM430 358h18v1h-18zM500 358h55v1h-55zM417 359h20v1h-20zM522 359h52v1h-52zM404 360h17v1h-17zM532 360h53v1h-53zM388 361h22v1h-22zM541 361h54v1h-54zM381 362h10v1h-10zM548 362h58v1h-58zM553 363h63v1h-63zM563 364h78v1h-78zM573 365h68v1h-68zM578 366h63v1h-63zM587 367h54v1h-54zM597 368h44v1h-44zM381 369h3v1h-3zM607 369h34v1h-34zM381 370h7v1h-7zM618 370h23v1h-23zM381 371h10v1h-10zM628 371h13v1h-13zM381 372h12v1h-12zM381 373h12v1h-12zM381 374h13v1h-13zM381 375h16v1h-16zM381 376h21v1h-21zM381 377h26v1h-26zM381 378h31v1h-31zM381 379h37v1h-37zM381 380h40v1h-40zM381 381h42v1h-42zM381 382h44v1h-44zM381 383h46v1h-46zM381 384h48v1h-48zM381 385h49v1h-49zM381 386h50v1h-50zM381 387h51v1h-51zM381 388h52v1h-52zM381 389h53v1h-53zM381 390h54v1h-54zM381 391h54v1h-54zM381 392h54v1h-54zM381 393h54v1h-54zM381 394h53v1h-53zM381 395h53v1h-53zM381 396h54v1h-54zM381 397h54v1h-54zM381 398h54v1h-54zM381 399h55v1h-55zM381 400h55v1h-55zM381 401h55v1h-55zM381 402h55v1h-55zM381 403h55v1h-55zM381 404h55v1h-55zM381 405h54v1h-54zM381 406h19v1h-19zM402 406h32v1h-32zM381 407h19v1h-19zM403 407h9v1h-9zM414 407h17v1h-17zM381 408h18v1h-18zM403 408h8v1h-8zM415 408h13v1h-13zM381 409h18v1h-18zM403 409h8v1h-8zM416 409h9v1h-9zM381 410h18v1h-18zM403 410h8v1h-8zM416 410h7v1h-7zM381 411h18v1h-18zM403 411h8v1h-8zM415 411h7v1h-7zM381 412h3v1h-3zM386 412h13v1h-13zM403 412h9v1h-9zM415 412h7v1h-7zM381 413h2v1h-2zM387 413h12v1h-12zM403 413h18v1h-18zM381 414h2v1h-2zM389 414h10v1h-10zM403 414h17v1h-17zM381 415h1v1h-1zM391 415h9v1h-9zM403 415h16v1h-16zM393 416h7v1h-7zM402 416h12v1h-12zM401 417h8v1h-8z"/><path fill="#00ffd8" d="M475 357h13v1h-13zM448 358h52v1h-52zM437 359h24v1h-24zM490 359h32v1h-32zM421 360h22v1h-22zM501 360h31v1h-31zM410 361h16v1h-16zM517 361h24v1h-24zM391 362h20v1h-20zM527 362h21v1h-21zM381 363h4v1h-4zM531 363h22v1h-22zM541 364h22v1h-22zM542 365h31v1h-31zM552 366h26v1h-26zM556 367h31v1h-31zM381 368h3v1h-3zM563 368h34v1h-34zM384 369h3v1h-3zM574 369h33v1h-33zM388 370h3v1h-3zM580 370h38v1h-38zM391 371h6v1h-6zM589 371h39v1h-39zM393 372h13v1h-13zM599 372h42v1h-42zM393 373h19v1h-19zM616 373h25v1h-25zM394 374h24v1h-24zM625 374h16v1h-16zM397 375h26v1h-26zM402 376h26v1h-26zM407 377h25v1h-25zM412 378h24v1h-24zM418 379h23v1h-23zM421 380h21v1h-21zM423 381h21v1h-21zM425 382h21v1h-21zM427 383h20v1h-20zM429 384h20v1h-20zM430 385h20v1h-20zM431 386h19v1h-19zM432 387h18v1h-18zM433 388h17v1h-17zM434 389h16v1h-16zM435 390h16v1h-16zM435 391h16v1h-16zM435 392h16v1h-16zM435 393h16v1h-16zM434 394h17v1h-17zM434 395h18v1h-18zM435 396h18v1h-18zM435 397h20v1h-20zM435 398h21v1h-21zM436 399h21v1h-21zM436 400h22v1h-22zM436 401h23v1h-23zM436 402h25v1h-25zM436 403h26v1h-26zM436 404h27v1h-27zM435 405h29v1h-29zM400 406h2v1h-2zM434 406h30v1h-30zM400 407h3v1h-3zM412 407h2v1h-2zM431 407h33v1h-33zM399 408h4v1h-4zM411 408h4v1h-4zM428 408h36v1h-36zM399 409h4v1h-4zM411 409h5v1h-5zM425 409h39v1h-39zM399 410h4v1h-4zM411 410h5v1h-5zM423 410h41v1h-41zM399 411h4v1h-4zM411 411h4v1h-4zM422 411h42v1h-42zM384 412h2v1h-2zM399 412h4v1h-4zM412 412h3v1h-3zM422 412h42v1h-42zM383 413h4v1h-4zM399 413h4v1h-4zM421 413h43v1h-43zM383 414h6v1h-6zM399 414h4v1h-4zM420 414h44v1h-44zM382 415h9v1h-9zM400 415h3v1h-3zM419 415h44v1h-44zM381 416h12v1h-12zM400 416h2v1h-2zM414 416h46v1h-46zM381 417h20v1h-20zM409 417h47v1h-47zM381 418h71v1h-71zM381 419h67v1h-67zM381 420h63v1h-63zM381 421h59v1h-59zM381 422h56v1h-56zM381 423h55v1h-55zM381 424h54v1h-54zM381 425h52v1h-52zM381 426h51v1h-51zM381 427h50v1h-50z"/><path fill="#00f040" d="M461 359h29v1h-29zM443 360h23v1h-23zM485 360h16v1h-16zM426 361h18v1h-18zM497 361h20v1h-20zM411 362h12v1h-12zM431 362h8v1h-8zM505 362h22v1h-22zM385 363h5v1h-5zM519 363h12v1h-12zM525 364h16v1h-16zM530 365h12v1h-12zM534 366h18v1h-18zM541 367h15v1h-15zM384 368h1v1h-1zM542 368h21v1h-21zM551 369h23v1h-23zM553 370h27v1h-27zM397 371h4v1h-4zM561 371h28v1h-28zM406 372h3v1h-3zM563 372h36v1h-36zM412 373h1v1h-1zM569 373h47v1h-47zM418 374h5v1h-5zM574 374h51v1h-51zM423 375h1v1h-1zM574 375h67v1h-67zM428 376h6v1h-6zM579 376h62v1h-62zM432 377h2v1h-2zM443 377h7v1h-7zM595 377h46v1h-46zM436 378h15v1h-15zM605 378h36v1h-36zM450 379h8v1h-8zM614 379h27v1h-27zM449 380h19v1h-19zM624 380h17v1h-17zM449 381h24v1h-24zM633 381h8v1h-8zM449 382h28v1h-28zM448 383h31v1h-31zM449 384h31v1h-31zM450 385h30v1h-30zM450 386h31v1h-31zM450 387h32v1h-32zM450 388h32v1h-32zM450 389h33v1h-33zM451 390h33v1h-33zM451 391h34v1h-34zM451 392h34v1h-34zM451 393h35v1h-35zM451 394h36v1h-36zM452 395h36v1h-36zM453 396h35v1h-35zM455 397h34v1h-34zM456 398h34v1h-34zM457 399h33v1h-33zM458 400h33v1h-33zM459 401h32v1h-32zM461 402h31v1h-31zM462 403h30v1h-30zM463 404h29v1h-29zM464 405h28v1h-28zM464 406h28v1h-28zM464 407h28v1h-28zM464 408h28v1h-28zM464 409h29v1h-29zM464 410h29v1h-29zM464 411h29v1h-29zM464 412h30v1h-30zM464 413h31v1h-31zM464 414h32v1h-32zM463 415h34v1h-34zM460 416h38v1h-38zM456 417h43v1h-43zM452 418h48v1h-48zM448 419h53v1h-53zM444 420h58v1h-58zM440 421h63v1h-63zM437 422h67v1h-67zM436 423h69v1h-69zM435 424h70v1h-70zM433 425h73v1h-73zM432 426h75v1h-75zM431 427h76v1h-76z"/><path fill="#38f800" d="M466 360h19v1h-19zM444 361h12v1h-12zM486 361h11v1h-11zM423 362h8v1h-8zM439 362h6v1h-6zM488 362h17v1h-17zM390 363h22v1h-22zM496 363h23v1h-23zM508 364h17v1h-17zM519 365h11v1h-11zM520 366h14v1h-14zM381 367h3v1h-3zM530 367h11v1h-11zM385 368h2v1h-2zM531 368h11v1h-11zM387 369h2v1h-2zM540 369h11v1h-11zM391 370h5v1h-5zM542 370h11v1h-11zM401 371h5v1h-5zM549 371h12v1h-12zM409 372h4v1h-4zM552 372h11v1h-11zM413 373h5v1h-5zM561 373h8v1h-8zM423 374h6v1h-6zM563 374h11v1h-11zM424 375h5v1h-5zM566 375h8v1h-8zM434 376h14v1h-14zM569 376h10v1h-10zM434 377h9v1h-9zM450 377h4v1h-4zM574 377h21v1h-21zM451 378h4v1h-4zM575 378h30v1h-30zM441 379h9v1h-9zM458 379h1v1h-1zM581 379h33v1h-33zM442 380h7v1h-7zM585 380h13v1h-13zM601 380h23v1h-23zM444 381h5v1h-5zM589 381h8v1h-8zM610 381h23v1h-23zM446 382h3v1h-3zM619 382h22v1h-22zM447 383h1v1h-1zM628 383h13v1h-13zM637 384h4v1h-4zM480 385h2v1h-2zM481 386h3v1h-3zM482 387h4v1h-4zM482 388h5v1h-5zM483 389h6v1h-6zM484 390h6v1h-6zM485 391h6v1h-6zM485 392h7v1h-7zM486 393h7v1h-7zM487 394h6v1h-6zM488 395h6v1h-6zM488 396h6v1h-6zM489 397h6v1h-6zM490 398h6v1h-6zM490 399h7v1h-7zM491 400h8v1h-8zM491 401h9v1h-9zM492 402h9v1h-9zM492 403h11v1h-11zM492 404h12v1h-12zM492 405h14v1h-14zM492 406h15v1h-15zM492 407h16v1h-16zM492 408h17v1h-17zM493 409h17v1h-17zM493 410h17v1h-17zM493 411h18v1h-18zM494 412h17v1h-17zM495 413h16v1h-16zM496 414h17v1h-17zM497 415h19v1h-19zM498 416h22v1h-22zM499 417h22v1h-22zM500 418h21v1h-21zM501 419h21v1h-21zM502 420h20v1h-20zM503 421h20v1h-20zM504 422h19v1h-19zM505 423h17v1h-17zM505 424h17v1h-17zM506 425h16v1h-16zM507 426h14v1h-14zM507 427h14v1h-14z"/><path fill="#d8ff00" d="M456 361h30v1h-30zM445 362h11v1h-11zM477 362h11v1h-11zM412 363h11v1h-11zM432 363h7v1h-7zM485 363h11v1h-11zM381 364h4v1h-4zM488 364h20v1h-20zM495 365h24v1h-24zM498 366h22v1h-22zM384 367h2v1h-2zM508 367h22v1h-22zM387 368h2v1h-2zM519 368h12v1h-12zM389 369h2v1h-2zM529 369h11v1h-11zM396 370h6v1h-6zM530 370h12v1h-12zM406 371h5v1h-5zM538 371h11v1h-11zM413 372h6v1h-6zM541 372h11v1h-11zM418 373h6v1h-6zM548 373h13v1h-13zM429 374h5v1h-5zM552 374h11v1h-11zM429 375h6v1h-6zM560 375h6v1h-6zM448 376h7v1h-7zM561 376h8v1h-8zM454 377h3v1h-3zM563 377h11v1h-11zM455 378h16v1h-16zM564 378h11v1h-11zM459 379h17v1h-17zM572 379h9v1h-9zM468 380h13v1h-13zM574 380h11v1h-11zM473 381h9v1h-9zM574 381h15v1h-15zM477 382h6v1h-6zM577 382h20v1h-20zM479 383h6v1h-6zM578 383h19v1h-19zM480 384h6v1h-6zM585 384h12v1h-12zM482 385h5v1h-5zM484 386h4v1h-4zM486 387h3v1h-3zM487 388h3v1h-3zM489 389h2v1h-2zM490 390h2v1h-2zM491 391h2v1h-2zM492 392h2v1h-2zM493 393h2v1h-2zM493 394h3v1h-3zM494 395h3v1h-3zM494 396h4v1h-4zM495 397h5v1h-5zM496 398h6v1h-6zM497 399h6v1h-6zM499 400h6v1h-6zM500 401h6v1h-6zM501 402h7v1h-7zM503 403h7v1h-7zM504 404h7v1h-7zM506 405h6v1h-6zM507 406h6v1h-6zM508 407h6v1h-6zM509 408h7v1h-7zM510 409h7v1h-7zM510 410h8v1h-8zM511 411h8v1h-8zM511 412h9v1h-9zM511 413h10v1h-10zM513 414h9v1h-9zM516 415h8v1h-8zM520 416h4v1h-4zM521 417h4v1h-4zM521 418h5v1h-5zM522 419h4v1h-4zM522 420h5v1h-5zM523 421h4v1h-4zM523 422h5v1h-5zM522 423h6v1h-6zM522 424h7v1h-7zM522 425h7v1h-7zM521 426h9v1h-9zM521 427h9v1h-9z"/><path fill="#ffd000" d="M456 362h21v1h-21zM423 363h9v1h-9zM439 363h8v1h-8zM468 363h17v1h-17zM385 364h6v1h-6zM398 364h10v1h-10zM477 364h11v1h-11zM485 365h10v1h-10zM381 366h2v1h-2zM487 366h11v1h-11zM386 367h2v1h-2zM497 367h11v1h-11zM389 368h1v1h-1zM498 368h21v1h-21zM391 369h3v1h-3zM507 369h22v1h-22zM402 370h5v1h-5zM508 370h22v1h-22zM411 371h4v1h-4zM510 371h28v1h-28zM419 372h10v1h-10zM519 372h22v1h-22zM424 373h8v1h-8zM520 373h28v1h-28zM434 374h17v1h-17zM530 374h22v1h-22zM435 375h19v1h-19zM530 375h30v1h-30zM455 376h19v1h-19zM530 376h31v1h-31zM457 377h19v1h-19zM534 377h29v1h-29zM471 378h7v1h-7zM545 378h19v1h-19zM476 379h17v1h-17zM555 379h17v1h-17zM481 380h14v1h-14zM563 380h11v1h-11zM598 380h3v1h-3zM482 381h14v1h-14zM563 381h11v1h-11zM597 381h13v1h-13zM483 382h15v1h-15zM571 382h6v1h-6zM597 382h22v1h-22zM485 383h15v1h-15zM572 383h6v1h-6zM597 383h31v1h-31zM486 384h15v1h-15zM574 384h11v1h-11zM597 384h40v1h-40zM487 385h16v1h-16zM574 385h22v1h-22zM597 385h44v1h-44zM488 386h17v1h-17zM584 386h8v1h-8zM597 386h44v1h-44zM489 387h17v1h-17zM600 387h41v1h-41zM490 388h18v1h-18zM606 388h35v1h-35zM491 389h19v1h-19zM610 389h31v1h-31zM492 390h19v1h-19zM613 390h28v1h-28zM493 391h19v1h-19zM553 391h6v1h-6zM617 391h24v1h-24zM494 392h20v1h-20zM552 392h9v1h-9zM621 392h20v1h-20zM495 393h20v1h-20zM551 393h10v1h-10zM626 393h15v1h-15zM496 394h20v1h-20zM550 394h12v1h-12zM630 394h11v1h-11zM497 395h21v1h-21zM550 395h12v1h-12zM635 395h6v1h-6zM498 396h21v1h-21zM550 396h12v1h-12zM639 396h2v1h-2zM500 397h20v1h-20zM550 397h12v1h-12zM502 398h20v1h-20zM551 398h11v1h-11zM503 399h20v1h-20zM551 399h10v1h-10zM505 400h20v1h-20zM552 400h8v1h-8zM506 401h23v1h-23zM554 401h4v1h-4zM508 402h25v1h-25zM558 402h4v1h-4zM510 403h27v1h-27zM558 403h4v1h-4zM605 403h2v1h-2zM511 404h30v1h-30zM555 404h6v1h-6zM605 404h3v1h-3zM512 405h48v1h-48zM513 406h47v1h-47zM514 407h46v1h-46zM516 408h45v1h-45zM517 409h49v1h-49zM518 410h49v1h-49zM519 411h48v1h-48zM520 412h47v1h-47zM521 413h46v1h-46zM522 414h45v1h-45zM524 415h44v1h-44zM577 415h4v1h-4zM524 416h44v1h-44zM571 416h13v1h-13zM525 417h43v1h-43zM570 417h16v1h-16zM624 417h4v1h-4zM526 418h42v1h-42zM570 418h19v1h-19zM623 418h6v1h-6zM526 419h42v1h-42zM570 419h20v1h-20zM623 419h6v1h-6zM527 420h41v1h-41zM570 420h20v1h-20zM624 420h5v1h-5zM527 421h41v1h-41zM570 421h20v1h-20zM625 421h2v1h-2zM528 422h40v1h-40zM570 422h20v1h-20zM528 423h39v1h-39zM570 423h20v1h-20zM529 424h38v1h-38zM570 424h20v1h-20zM529 425h38v1h-38zM570 425h20v1h-20zM530 426h37v1h-37zM570 426h20v1h-20zM530 427h37v1h-37zM570 427h20v1h-20z"/><path fill="#ff8c00" d="M447 363h21v1h-21zM391 364h7v1h-7zM408 364h8v1h-8zM431 364h9v1h-9zM467 364h10v1h-10zM381 365h2v1h-2zM471 365h14v1h-14zM383 366h4v1h-4zM475 366h12v1h-12zM388 367h2v1h-2zM476 367h21v1h-21zM390 368h2v1h-2zM476 368h22v1h-22zM394 369h6v1h-6zM476 369h31v1h-31zM407 370h5v1h-5zM476 370h32v1h-32zM415 371h7v1h-7zM473 371h37v1h-37zM429 372h5v1h-5zM473 372h46v1h-46zM432 373h11v1h-11zM465 373h1v1h-1zM474 373h46v1h-46zM451 374h5v1h-5zM464 374h3v1h-3zM472 374h58v1h-58zM454 375h76v1h-76zM474 376h56v1h-56zM476 377h58v1h-58zM478 378h67v1h-67zM493 379h62v1h-62zM495 380h68v1h-68zM496 381h67v1h-67zM498 382h73v1h-73zM500 383h72v1h-72zM501 384h50v1h-50zM557 384h17v1h-17zM503 385h29v1h-29zM549 385h2v1h-2zM558 385h16v1h-16zM596 385h1v1h-1zM505 386h30v1h-30zM546 386h5v1h-5zM557 386h27v1h-27zM592 386h5v1h-5zM506 387h94v1h-94zM508 388h98v1h-98zM510 389h100v1h-100zM511 390h102v1h-102zM512 391h41v1h-41zM559 391h58v1h-58zM514 392h38v1h-38zM561 392h12v1h-12zM580 392h41v1h-41zM515 393h36v1h-36zM561 393h10v1h-10zM581 393h45v1h-45zM516 394h34v1h-34zM562 394h9v1h-9zM581 394h49v1h-49zM518 395h32v1h-32zM562 395h10v1h-10zM581 395h54v1h-54zM519 396h31v1h-31zM562 396h13v1h-13zM580 396h3v1h-3zM589 396h50v1h-50zM520 397h30v1h-30zM562 397h17v1h-17zM594 397h47v1h-47zM522 398h17v1h-17zM541 398h10v1h-10zM562 398h18v1h-18zM594 398h47v1h-47zM523 399h14v1h-14zM543 399h8v1h-8zM561 399h20v1h-20zM594 399h47v1h-47zM525 400h11v1h-11zM544 400h8v1h-8zM560 400h22v1h-22zM593 400h48v1h-48zM529 401h7v1h-7zM544 401h10v1h-10zM558 401h83v1h-83zM533 402h4v1h-4zM543 402h15v1h-15zM562 402h79v1h-79zM537 403h2v1h-2zM541 403h17v1h-17zM562 403h43v1h-43zM607 403h34v1h-34zM541 404h14v1h-14zM561 404h44v1h-44zM608 404h33v1h-33zM560 405h81v1h-81zM560 406h41v1h-41zM605 406h36v1h-36zM560 407h36v1h-36zM609 407h32v1h-32zM561 408h33v1h-33zM612 408h29v1h-29zM566 409h27v1h-27zM614 409h27v1h-27zM567 410h24v1h-24zM613 410h28v1h-28zM567 411h24v1h-24zM612 411h18v1h-18zM635 411h6v1h-6zM567 412h24v1h-24zM611 412h17v1h-17zM636 412h5v1h-5zM567 413h24v1h-24zM611 413h17v1h-17zM636 413h5v1h-5zM567 414h14v1h-14zM585 414h7v1h-7zM611 414h18v1h-18zM635 414h6v1h-6zM568 415h9v1h-9zM585 415h7v1h-7zM611 415h30v1h-30zM568 416h3v1h-3zM584 416h9v1h-9zM598 416h3v1h-3zM611 416h30v1h-30zM568 417h2v1h-2zM586 417h38v1h-38zM628 417h13v1h-13zM568 418h2v1h-2zM589 418h34v1h-34zM629 418h12v1h-12zM568 419h2v1h-2zM590 419h33v1h-33zM629 419h12v1h-12zM568 420h2v1h-2zM590 420h34v1h-34zM629 420h12v1h-12zM568 421h2v1h-2zM590 421h35v1h-35zM627 421h14v1h-14zM568 422h2v1h-2zM590 422h51v1h-51zM567 423h3v1h-3zM590 423h51v1h-51zM567 424h3v1h-3zM590 424h51v1h-51zM567 425h3v1h-3zM590 425h51v1h-51zM567 426h3v1h-3zM590 426h51v1h-51zM567 427h3v1h-3zM590 427h51v1h-51z"/><path fill="#ff3c00" d="M416 364h15v1h-15zM440 364h8v1h-8zM462 364h5v1h-5zM383 365h7v1h-7zM463 365h8v1h-8zM387 366h4v1h-4zM464 366h11v1h-11zM390 367h2v1h-2zM465 367h11v1h-11zM392 368h4v1h-4zM465 368h11v1h-11zM400 369h10v1h-10zM465 369h11v1h-11zM412 370h8v1h-8zM464 370h12v1h-12zM422 371h20v1h-20zM459 371h14v1h-14zM434 372h39v1h-39zM443 373h22v1h-22zM466 373h8v1h-8zM456 374h8v1h-8zM467 374h5v1h-5zM551 384h6v1h-6zM532 385h17v1h-17zM551 385h7v1h-7zM535 386h11v1h-11zM551 386h6v1h-6zM573 392h7v1h-7zM571 393h10v1h-10zM571 394h10v1h-10zM572 395h9v1h-9zM575 396h5v1h-5zM583 396h6v1h-6zM579 397h15v1h-15zM539 398h2v1h-2zM580 398h14v1h-14zM537 399h6v1h-6zM581 399h13v1h-13zM536 400h8v1h-8zM582 400h11v1h-11zM536 401h8v1h-8zM537 402h6v1h-6zM539 403h2v1h-2zM601 406h4v1h-4zM596 407h13v1h-13zM594 408h18v1h-18zM593 409h21v1h-21zM591 410h22v1h-22zM591 411h21v1h-21zM630 411h5v1h-5zM591 412h20v1h-20zM628 412h8v1h-8zM591 413h20v1h-20zM628 413h8v1h-8zM581 414h4v1h-4zM592 414h19v1h-19zM629 414h6v1h-6zM581 415h4v1h-4zM592 415h19v1h-19zM593 416h5v1h-5zM601 416h10v1h-10z"/><path fill="#ff0000" d="M448 364h14v1h-14zM390 365h73v1h-73zM391 366h73v1h-73zM392 367h73v1h-73zM396 368h69v1h-69zM410 369h55v1h-55zM420 370h44v1h-44zM442 371h17v1h-17z"/><path d="M382.3 327.5v4M382.3 428.5v-4M393.3 327.5v4M393.3 428.5v-4M404.2 327.5v4M404.2 428.5v-4M415.2 327.5v7M415.2 428.5v-7M426.2 327.5v4M426.2 428.5v-4M437.1 327.5v4M437.1 428.5v-4M448.1 327.5v4M448.1 428.5v-4M459.1 327.5v7M459.1 428.5v-7M470.0 327.5v4M470.0 428.5v-4M481.0 327.5v4M481.0 428.5v-4M492.0 327.5v4M492.0 428.5v-4M502.9 327.5v7M502.9 428.5v-7M513.9 327.5v4M513.9 428.5v-4M524.9 327.5v4M524.9 428.5v-4M535.8 327.5v4M535.8 428.5v-4M546.8 327.5v7M546.8 428.5v-7M557.7 327.5v4M557.7 428.5v-4M568.7 327.5v4M568.7 428.5v-4M579.7 327.5v4M579.7 428.5v-4M590.6 327.5v7M590.6 428.5v-7M601.6 327.5v4M601.6 428.5v-4M612.6 327.5v4M612.6 428.5v-4M623.5 327.5v4M623.5 428.5v-4M634.5 327.5v7M634.5 428.5v-7M380.5 409.4h7M641.5 409.4h-7M380.5 387.5h7M641.5 387.5h-7M380.5 365.5h7M641.5 365.5h-7M380.5 343.6h7M641.5 343.6h-7" stroke="#000" stroke-width="1.05" fill="none"/><rect x="380.5" y="327.5" width="261" height="101" fill="none" stroke="#000" stroke-width="1"/><text x="415.2" y="440.5" text-anchor="middle" class="t">0.2</text><text x="459.1" y="440.5" text-anchor="middle" class="t">0.4</text><text x="502.9" y="440.5" text-anchor="middle" class="t">0.6</text><text x="546.8" y="440.5" text-anchor="middle" class="t">0.8</text><text x="590.6" y="440.5" text-anchor="middle" class="t">1</text><text x="634.5" y="440.5" text-anchor="middle" class="t">1.2</text><text x="378.5" y="413.0" text-anchor="end" class="t">0.1</text><text x="378.5" y="391.1" text-anchor="end" class="t">0.2</text><text x="378.5" y="369.1" text-anchor="end" class="t">0.3</text><text x="378.5" y="347.2" text-anchor="end" class="t">0.4</text><rect x="647.0" y="326.40" width="14.2" height="5.10" fill="#ff0000"/><rect x="647.0" y="331.50" width="14.2" height="9.11" fill="#ff3c00"/><rect x="647.0" y="340.61" width="14.2" height="9.11" fill="#ff8c00"/><rect x="647.0" y="349.72" width="14.2" height="9.11" fill="#ffd000"/><rect x="647.0" y="358.83" width="14.2" height="9.11" fill="#d8ff00"/><rect x="647.0" y="367.94" width="14.2" height="9.11" fill="#38f800"/><rect x="647.0" y="377.05" width="14.2" height="9.11" fill="#00f040"/><rect x="647.0" y="386.16" width="14.2" height="9.11" fill="#00ffd8"/><rect x="647.0" y="395.27" width="14.2" height="9.11" fill="#00d8ff"/><rect x="647.0" y="404.38" width="14.2" height="9.11" fill="#008cff"/><rect x="647.0" y="413.49" width="14.2" height="9.11" fill="#0038ff"/><rect x="647.0" y="422.60" width="14.2" height="5.10" fill="#0000f0"/><text x="668.6" y="336.4" class="t">0.5</text><text x="668.6" y="354.7" class="t">0.4</text><text x="668.6" y="373.0" class="t">0.3</text><text x="668.6" y="391.4" class="t">0.2</text><text x="668.6" y="409.7" class="t">0.1</text><text x="668.6" y="428.0" class="t">0</text><text class="ct"><tspan x="573.6" y="315.8">(</tspan><tspan x="577.2" y="315.8">w</tspan><tspan x="587.3" y="320.3" class="sub">PIV</tspan><tspan x="604.3" y="315.8">-</tspan><tspan x="610.2" y="315.8">w</tspan><tspan x="622.0" y="320.3" class="sub">REF</tspan><tspan x="638.2" y="315.8">)</tspan><tspan x="642.4" y="320.3" class="sub">RMS</tspan><tspan x="663.5" y="315.8" letter-spacing="0.6">[vx]</tspan></text><text transform="translate(359.8 377.9) rotate(-90)" text-anchor="middle" class="ax">y/D</text><text x="511.0" y="450.2" text-anchor="middle" class="ax">x/D</text>
</svg></div></body></html>
